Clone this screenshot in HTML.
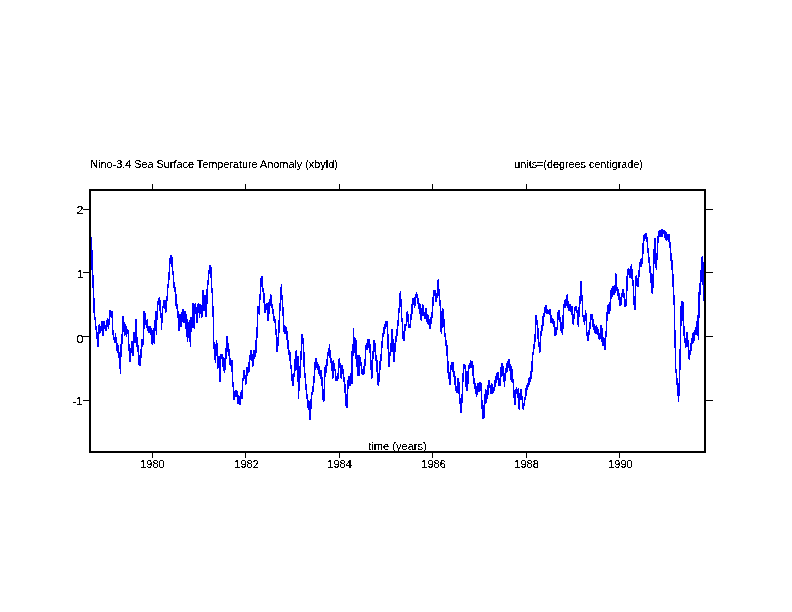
<!DOCTYPE html>
<html><head><meta charset="utf-8"><style>
html,body{margin:0;padding:0;background:#fff;}
body{width:792px;height:612px;overflow:hidden;}
svg{display:block;}
text{font-family:"Liberation Sans",sans-serif;fill:#000;stroke:#000;stroke-width:0.15px;}
</style></head><body>
<svg width="792" height="612" viewBox="0 0 792 612">
<defs><filter id="bin" x="0" y="0" width="792" height="612" filterUnits="userSpaceOnUse"><feComponentTransfer><feFuncA type="discrete" tableValues="0 1"/></feComponentTransfer></filter></defs>
<rect x="0" y="0" width="792" height="612" fill="#fff"/>
<path d="M91.09,237.17 L91.09,237.17 L91.22,240.33 L91.35,242.10 L91.47,242.96 L91.60,245.36 L91.73,246.76 L91.78,250.91 L91.86,252.35 L91.99,260.87 L92.11,264.37 L92.24,268.26 L92.29,271.51 L92.37,272.52 L92.50,274.42 L92.63,275.57 L92.75,274.70 L92.81,276.66 L92.88,278.00 L93.01,283.59 L93.14,284.41 L93.27,288.21 L93.32,292.12 L93.39,288.77 L93.52,291.45 L93.65,293.23 L93.78,298.79 L93.91,301.35 L94.01,309.29 L94.03,307.08 L94.16,310.85 L94.29,313.37 L94.42,311.19 L94.52,318.89 L94.55,314.50 L94.67,316.94 L94.80,319.02 L94.93,317.27 L95.06,318.62 L95.19,318.72 L95.31,319.42 L95.44,323.86 L95.57,323.09 L95.70,324.46 L95.73,325.76 L95.83,327.56 L95.95,326.87 L96.08,327.77 L96.21,329.11 L96.34,330.20 L96.47,328.63 L96.59,330.66 L96.72,334.81 L96.85,331.85 L96.93,334.34 L96.98,335.49 L97.11,336.99 L97.23,336.97 L97.36,342.84 L97.49,344.49 L97.62,342.15 L97.75,343.89 L97.87,346.53 L97.96,346.36 L98.00,345.92 L98.13,344.97 L98.26,342.02 L98.39,340.84 L98.51,340.80 L98.64,335.66 L98.77,333.47 L98.90,329.94 L99.03,328.12 L99.15,324.86 L99.16,325.76 L99.28,324.86 L99.41,325.26 L99.54,328.56 L99.67,331.32 L99.79,328.34 L99.92,327.89 L100.05,330.81 L100.18,327.57 L100.31,328.97 L100.36,332.62 L100.43,329.94 L100.56,332.45 L100.69,332.47 L100.82,330.09 L100.95,328.23 L101.07,327.00 L101.20,329.46 L101.33,326.68 L101.46,324.91 L101.59,324.81 L101.71,323.45 L101.74,323.18 L101.84,322.70 L101.97,321.26 L102.10,321.26 L102.23,321.26 L102.35,323.53 L102.42,322.16 L102.48,325.29 L102.61,326.68 L102.74,329.81 L102.87,330.58 L102.99,334.73 L103.11,334.34 L103.12,335.22 L103.25,335.07 L103.38,330.49 L103.51,330.53 L103.63,326.02 L103.76,322.14 L103.89,322.80 L104.02,321.53 L104.15,322.42 L104.27,326.64 L104.31,323.18 L104.40,323.75 L104.53,322.93 L104.66,324.30 L104.79,325.91 L104.91,325.73 L105.04,325.78 L105.17,327.82 L105.30,328.89 L105.43,326.63 L105.55,327.39 L105.68,328.28 L105.81,326.83 L105.94,328.80 L106.03,330.05 L106.07,327.56 L106.19,329.58 L106.32,328.90 L106.45,327.96 L106.58,325.71 L106.71,324.97 L106.83,321.40 L106.96,321.40 L107.09,321.40 L107.22,320.07 L107.23,322.32 L107.35,321.09 L107.47,318.75 L107.60,322.54 L107.73,321.80 L107.86,324.79 L107.99,325.49 L108.11,322.76 L108.24,326.89 L108.37,328.34 L108.50,328.21 L108.60,327.47 L108.63,327.78 L108.75,325.70 L108.88,322.20 L109.01,323.64 L109.14,320.60 L109.27,319.15 L109.39,316.18 L109.52,314.12 L109.65,310.97 L109.78,313.53 L109.91,311.63 L109.98,311.00 L109.98,311.16 L110.03,313.23 L110.16,313.16 L110.29,311.95 L110.42,312.21 L110.55,312.14 L110.67,313.49 L110.80,313.78 L110.93,314.35 L111.01,316.15 L111.06,312.84 L111.18,317.17 L111.19,313.35 L111.31,317.54 L111.44,315.14 L111.57,312.68 L111.70,313.73 L111.83,316.24 L111.95,311.77 L112.04,312.88 L112.08,312.65 L112.21,315.12 L112.34,315.62 L112.47,322.20 L112.59,325.90 L112.72,329.60 L112.85,331.45 L112.90,334.34 L112.98,334.58 L113.11,334.13 L113.23,334.88 L113.36,333.63 L113.49,332.90 L113.62,337.79 L113.75,337.27 L113.87,338.79 L114.00,339.28 L114.13,338.99 L114.26,338.91 L114.39,341.37 L114.51,341.21 L114.61,342.07 L114.64,341.26 L114.77,340.37 L114.90,341.69 L115.03,341.02 L115.15,339.57 L115.28,336.34 L115.41,333.75 L115.47,334.34 L115.54,335.10 L115.67,337.69 L115.79,337.36 L115.92,338.84 L116.05,340.53 L116.18,341.96 L116.31,343.32 L116.43,341.70 L116.56,344.99 L116.69,341.76 L116.82,344.36 L116.85,342.93 L116.95,345.45 L117.07,347.15 L117.20,350.47 L117.33,351.97 L117.46,347.90 L117.59,344.66 L117.71,348.03 L117.84,346.67 L117.97,348.16 L118.05,349.79 L118.10,351.12 L118.23,348.36 L118.35,346.14 L118.48,349.91 L118.61,352.11 L118.74,353.21 L118.87,354.81 L118.99,354.34 L119.12,353.11 L119.25,358.38 L119.25,355.44 L119.38,356.49 L119.51,356.50 L119.63,361.53 L119.76,364.14 L119.89,367.37 L120.02,367.24 L120.15,368.55 L120.27,369.38 L120.28,372.97 L120.40,365.33 L120.53,363.34 L120.66,358.62 L120.79,356.49 L120.91,353.61 L121.04,353.68 L121.17,345.31 L121.30,343.28 L121.43,338.54 L121.48,336.06 L121.55,337.07 L121.68,335.02 L121.81,336.18 L121.94,339.69 L122.07,340.56 L122.19,341.82 L122.32,342.23 L122.34,342.93 L122.45,341.70 L122.58,337.13 L122.71,328.53 L122.83,324.90 L122.96,318.67 L123.09,316.89 L123.20,317.87 L123.22,316.89 L123.35,316.89 L123.37,318.03 L123.47,318.79 L123.60,318.82 L123.73,320.12 L123.86,325.85 L123.99,328.15 L124.11,330.13 L124.24,331.92 L124.37,333.99 L124.40,334.34 L124.50,335.22 L124.63,334.58 L124.75,333.10 L124.88,329.26 L125.01,329.64 L125.14,327.06 L125.27,328.63 L125.39,324.42 L125.43,325.76 L125.52,325.28 L125.65,326.87 L125.78,325.62 L125.91,331.41 L126.03,334.79 L126.16,333.42 L126.29,335.50 L126.42,336.40 L126.55,331.40 L126.63,336.06 L126.67,334.00 L126.80,333.98 L126.93,334.00 L127.06,331.43 L127.19,331.25 L127.31,331.07 L127.44,333.44 L127.57,332.90 L127.70,331.64 L127.83,333.69 L127.84,330.05 L127.95,332.79 L128.08,333.40 L128.21,331.64 L128.34,338.08 L128.47,341.47 L128.59,344.12 L128.72,345.95 L128.85,346.65 L128.87,344.64 L128.98,348.20 L129.11,349.02 L129.23,350.41 L129.36,352.58 L129.49,357.60 L129.62,359.52 L129.75,360.25 L129.87,360.45 L129.90,360.95 L130.00,358.60 L130.13,361.18 L130.26,360.07 L130.39,358.05 L130.51,355.55 L130.64,352.05 L130.77,351.57 L130.90,352.69 L130.93,351.51 L131.03,350.53 L131.15,349.20 L131.28,348.04 L131.41,347.62 L131.54,343.57 L131.67,343.48 L131.79,341.80 L131.92,343.89 L132.05,341.45 L132.18,342.29 L132.30,341.21 L132.31,344.51 L132.43,345.18 L132.56,346.03 L132.69,349.15 L132.82,351.66 L132.95,352.20 L132.99,354.95 L133.07,353.08 L133.20,354.86 L133.33,350.45 L133.46,346.97 L133.59,342.26 L133.71,341.22 L133.84,336.53 L133.97,333.06 L134.02,336.06 L134.10,336.43 L134.23,334.70 L134.35,337.71 L134.48,340.47 L134.61,339.67 L134.74,339.86 L134.87,342.84 L134.99,340.40 L135.12,338.22 L135.22,337.77 L135.25,334.73 L135.38,333.05 L135.51,333.83 L135.63,332.17 L135.76,326.29 L135.89,321.85 L136.02,319.82 L136.08,319.59 L136.08,320.60 L136.15,321.65 L136.27,324.56 L136.40,328.38 L136.53,332.06 L136.66,334.31 L136.79,337.40 L136.91,340.98 L136.94,341.21 L137.04,342.06 L137.17,344.09 L137.30,348.46 L137.43,348.93 L137.55,348.55 L137.68,345.25 L137.79,348.08 L137.81,347.85 L137.94,345.40 L138.07,345.51 L138.19,350.62 L138.32,353.90 L138.45,354.66 L138.58,352.52 L138.71,354.42 L138.82,358.38 L138.83,355.42 L138.96,358.76 L139.09,364.34 L139.22,363.96 L139.35,362.07 L139.47,360.50 L139.60,362.13 L139.73,363.20 L139.85,365.25 L139.86,362.17 L139.99,362.34 L140.11,359.39 L140.24,361.64 L140.37,362.37 L140.50,362.35 L140.63,358.70 L140.75,357.98 L140.88,355.74 L141.01,353.37 L141.14,351.54 L141.23,351.51 L141.27,348.01 L141.39,345.09 L141.52,347.30 L141.65,346.14 L141.78,345.75 L141.91,346.58 L142.03,341.09 L142.16,339.18 L142.26,341.21 L142.29,339.88 L142.42,341.66 L142.55,341.37 L142.67,344.17 L142.80,344.39 L142.93,341.84 L143.06,341.05 L143.19,344.22 L143.29,344.64 L143.31,344.52 L143.44,335.49 L143.57,334.60 L143.70,330.62 L143.83,327.76 L143.95,320.64 L144.08,314.59 L144.15,311.86 L144.15,312.02 L144.21,311.38 L144.34,316.93 L144.47,315.78 L144.59,318.90 L144.72,316.60 L144.85,317.13 L144.98,314.07 L145.11,315.10 L145.18,317.87 L145.18,320.60 L145.23,321.48 L145.36,319.49 L145.49,323.23 L145.62,324.30 L145.75,322.48 L145.87,322.76 L146.00,323.30 L146.13,324.74 L146.26,324.93 L146.38,327.47 L146.39,324.66 L146.51,324.39 L146.64,322.48 L146.77,320.49 L146.90,321.48 L147.03,323.63 L147.15,319.93 L147.24,322.32 L147.28,320.89 L147.41,321.42 L147.54,321.71 L147.67,325.67 L147.79,325.86 L147.92,330.45 L148.05,329.08 L148.18,331.04 L148.31,331.42 L148.43,331.03 L148.44,332.62 L148.56,332.41 L148.69,331.52 L148.82,332.31 L148.95,331.29 L149.07,328.41 L149.20,328.46 L149.33,328.61 L149.46,330.31 L149.59,327.42 L149.71,327.22 L149.81,327.47 L149.84,326.62 L149.97,327.27 L150.10,326.62 L150.23,326.62 L150.35,326.90 L150.48,331.06 L150.61,328.56 L150.74,328.18 L150.87,328.90 L150.99,328.82 L151.12,332.04 L151.19,334.34 L151.25,332.09 L151.38,332.86 L151.51,336.37 L151.63,336.24 L151.76,338.98 L151.89,338.25 L152.02,337.77 L152.15,336.68 L152.27,343.85 L152.39,344.64 L152.40,343.89 L152.53,342.54 L152.66,340.37 L152.79,338.62 L152.91,336.54 L153.04,338.18 L153.17,332.46 L153.25,330.91 L153.30,328.70 L153.43,329.64 L153.55,330.27 L153.68,335.53 L153.81,339.55 L153.94,339.12 L154.07,338.72 L154.11,342.93 L154.19,338.50 L154.32,340.25 L154.45,332.00 L154.58,332.86 L154.71,329.30 L154.83,330.52 L154.96,326.13 L155.09,324.21 L155.22,319.74 L155.31,322.32 L155.35,317.54 L155.47,320.88 L155.60,321.29 L155.73,318.60 L155.86,315.58 L155.99,311.24 L156.11,311.16 L156.24,311.36 L156.34,312.72 L156.34,334.34 L156.37,331.92 L156.50,328.80 L156.63,323.46 L156.75,320.94 L156.88,318.08 L157.01,317.60 L157.14,317.05 L157.27,311.30 L157.37,305.85 L157.37,310.30 L157.39,310.10 L157.52,308.76 L157.65,306.39 L157.78,304.23 L157.91,303.82 L158.03,301.12 L158.16,302.33 L158.29,301.16 L158.40,300.70 L158.40,303.43 L158.42,303.52 L158.55,302.53 L158.67,300.63 L158.80,298.82 L158.93,298.94 L159.06,298.19 L159.19,299.05 L159.31,298.88 L159.43,298.98 L159.44,298.19 L159.57,299.40 L159.70,299.32 L159.83,301.49 L159.95,304.21 L160.08,303.04 L160.12,309.29 L160.12,310.30 L160.21,307.80 L160.34,310.43 L160.47,311.80 L160.59,312.51 L160.72,313.44 L160.85,313.20 L160.98,314.88 L161.11,315.74 L161.23,317.95 L161.36,317.09 L161.49,321.30 L161.49,329.19 L161.49,327.71 L161.62,326.28 L161.75,323.92 L161.87,321.00 L162.00,320.30 L162.13,314.53 L162.26,314.40 L162.39,312.96 L162.51,311.26 L162.64,309.51 L162.69,307.57 L162.69,308.59 L162.77,307.40 L162.90,306.31 L163.03,307.11 L163.15,306.84 L163.28,305.90 L163.41,301.55 L163.54,302.71 L163.67,304.34 L163.79,304.66 L163.89,300.70 L163.89,303.43 L163.92,305.96 L164.05,302.16 L164.18,305.00 L164.31,304.65 L164.43,300.35 L164.56,302.81 L164.69,301.00 L164.82,300.43 L164.92,305.85 L164.92,308.59 L164.95,304.26 L165.07,308.81 L165.20,308.36 L165.33,309.47 L165.46,311.95 L165.59,311.95 L165.71,311.95 L165.84,311.74 L165.97,308.95 L166.10,308.52 L166.13,311.00 L166.23,308.80 L166.35,307.82 L166.48,305.86 L166.61,305.65 L166.74,301.18 L166.87,299.13 L166.99,298.67 L167.12,297.29 L167.25,296.64 L167.33,292.12 L167.38,294.58 L167.51,292.05 L167.63,291.55 L167.76,288.20 L167.89,284.60 L168.02,286.56 L168.15,286.14 L168.27,286.30 L168.40,282.06 L168.53,281.86 L168.66,280.96 L168.70,283.53 L168.79,278.52 L168.91,273.04 L169.04,272.65 L169.17,273.94 L169.30,272.75 L169.43,269.13 L169.55,267.19 L169.68,266.63 L169.73,264.64 L169.81,259.05 L169.94,259.57 L170.07,260.75 L170.19,261.27 L170.32,263.15 L170.45,262.67 L170.58,260.27 L170.71,258.34 L170.76,255.20 L170.83,258.48 L170.96,256.35 L171.09,256.16 L171.22,258.02 L171.35,261.33 L171.47,259.16 L171.60,258.17 L171.73,258.15 L171.79,256.92 L171.86,261.50 L171.99,262.12 L172.11,266.33 L172.24,264.81 L172.37,266.30 L172.48,268.08 L172.50,267.90 L172.63,271.13 L172.75,274.19 L172.88,271.51 L173.01,271.69 L173.14,274.90 L173.27,275.43 L173.39,274.61 L173.51,280.10 L173.52,279.78 L173.65,281.85 L173.78,283.46 L173.91,282.85 L174.03,285.86 L174.16,285.49 L174.29,288.31 L174.42,286.35 L174.55,285.66 L174.67,287.72 L174.71,288.68 L174.80,287.38 L174.93,290.20 L175.06,291.34 L175.19,289.96 L175.31,291.42 L175.44,291.73 L175.57,294.75 L175.70,293.75 L175.83,293.84 L175.91,295.55 L175.95,297.66 L176.08,302.74 L176.21,305.83 L176.34,304.32 L176.47,304.23 L176.59,307.32 L176.72,306.38 L176.85,304.61 L176.94,305.85 L176.98,306.26 L177.11,308.42 L177.23,307.67 L177.36,306.10 L177.49,306.09 L177.62,310.80 L177.63,312.72 L177.75,311.13 L177.87,312.99 L178.00,315.26 L178.13,317.88 L178.14,317.17 L178.26,317.09 L178.39,318.26 L178.51,316.23 L178.64,316.11 L178.77,314.75 L178.90,318.29 L179.00,317.87 L179.00,330.05 L179.03,329.94 L179.15,326.44 L179.28,324.35 L179.41,322.59 L179.54,322.61 L179.67,317.26 L179.79,314.40 L179.86,317.17 L179.92,314.95 L180.05,320.20 L180.18,320.66 L180.31,318.74 L180.43,319.17 L180.56,322.06 L180.69,319.15 L180.72,316.15 L180.82,319.47 L180.95,324.41 L181.06,324.04 L181.07,326.74 L181.20,325.68 L181.33,322.17 L181.46,324.42 L181.59,324.82 L181.71,322.27 L181.84,320.46 L181.97,313.44 L182.10,314.04 L182.23,312.23 L182.35,311.89 L182.44,310.30 L182.44,317.87 L182.48,319.28 L182.61,316.72 L182.74,312.02 L182.87,312.86 L182.99,310.68 L183.12,309.74 L183.25,309.55 L183.30,310.14 L183.38,313.10 L183.47,320.60 L183.51,314.48 L183.63,318.50 L183.76,318.68 L183.89,320.20 L184.02,322.54 L184.15,319.72 L184.27,314.08 L184.40,312.20 L184.50,314.44 L184.50,317.17 L184.53,313.05 L184.66,313.59 L184.79,315.04 L184.91,311.71 L185.04,314.36 L185.17,312.21 L185.30,314.49 L185.43,315.01 L185.55,314.88 L185.68,315.24 L185.81,314.49 L185.87,316.15 L185.87,327.47 L185.94,325.56 L186.07,323.73 L186.19,326.20 L186.32,331.69 L186.45,335.51 L186.58,336.74 L186.71,336.50 L186.83,333.85 L186.90,332.62 L186.96,335.28 L187.09,331.21 L187.22,327.77 L187.35,324.29 L187.47,322.00 L187.59,319.59 L187.59,341.21 L187.60,340.30 L187.73,338.71 L187.86,335.07 L187.99,333.63 L188.11,337.39 L188.24,334.26 L188.37,331.37 L188.50,330.49 L188.62,327.47 L188.63,329.65 L188.75,325.21 L188.88,323.83 L189.01,324.73 L189.14,323.45 L189.27,321.87 L189.31,320.45 L189.39,327.80 L189.52,330.13 L189.65,334.34 L189.65,335.07 L189.78,335.99 L189.91,341.46 L190.03,338.76 L190.16,340.59 L190.29,342.87 L190.34,346.36 L190.42,342.61 L190.55,338.63 L190.67,335.69 L190.80,325.87 L190.93,322.50 L191.02,317.87 L191.06,319.18 L191.19,322.74 L191.31,329.23 L191.37,330.91 L191.44,328.73 L191.57,324.46 L191.70,324.98 L191.83,322.72 L191.95,322.75 L192.08,324.48 L192.21,325.08 L192.34,327.67 L192.47,325.33 L192.59,320.94 L192.72,319.54 L192.74,322.32 L192.85,312.85 L192.98,305.06 L193.08,304.13 L193.11,303.34 L193.23,303.34 L193.36,303.34 L193.49,305.69 L193.62,307.27 L193.75,309.58 L193.87,310.90 L194.00,313.16 L194.11,312.72 L194.11,327.47 L194.13,328.02 L194.26,327.65 L194.39,324.81 L194.51,322.05 L194.64,319.43 L194.77,313.13 L194.90,310.94 L195.03,308.45 L195.15,306.89 L195.28,303.76 L195.31,304.13 L195.31,310.30 L195.41,312.01 L195.54,311.87 L195.67,309.26 L195.79,306.80 L195.92,308.28 L196.05,309.66 L196.18,309.33 L196.31,310.85 L196.43,310.41 L196.52,312.72 L196.52,322.32 L196.56,321.62 L196.69,318.80 L196.82,317.91 L196.95,318.83 L197.07,322.00 L197.20,316.16 L197.33,313.17 L197.46,310.05 L197.59,310.85 L197.71,306.88 L197.84,305.26 L197.89,306.87 L197.97,305.28 L198.10,304.87 L198.23,304.87 L198.23,305.85 L198.35,304.87 L198.48,304.58 L198.61,304.24 L198.74,306.66 L198.87,310.26 L198.99,312.31 L199.12,310.93 L199.25,313.28 L199.26,317.17 L199.38,314.46 L199.51,313.53 L199.61,311.00 L199.63,311.09 L199.76,308.33 L199.89,309.37 L200.02,307.22 L200.15,304.40 L200.27,304.24 L200.40,306.46 L200.47,305.15 L200.53,306.21 L200.66,308.31 L200.79,306.37 L200.91,308.11 L200.98,305.85 L201.04,307.07 L201.17,308.79 L201.30,315.95 L201.43,317.65 L201.55,316.97 L201.67,317.17 L201.68,317.81 L201.81,316.47 L201.94,316.77 L202.01,312.72 L202.07,312.86 L202.19,307.29 L202.32,306.18 L202.45,305.41 L202.58,304.45 L202.70,303.43 L202.71,305.38 L202.83,300.24 L202.96,296.21 L203.04,290.40 L203.09,290.79 L203.22,295.08 L203.35,301.05 L203.47,302.92 L203.60,303.94 L203.73,305.30 L203.86,310.31 L203.99,308.83 L204.07,309.29 L204.11,309.22 L204.24,308.47 L204.37,307.99 L204.50,304.75 L204.63,303.69 L204.75,301.29 L204.88,300.05 L205.01,298.20 L205.10,297.27 L205.14,295.58 L205.27,298.83 L205.39,303.51 L205.52,303.58 L205.65,306.00 L205.78,310.21 L205.91,310.20 L206.03,313.64 L206.13,316.15 L206.16,312.81 L206.29,312.81 L206.42,313.85 L206.55,312.58 L206.67,306.01 L206.80,302.68 L206.93,298.12 L207.06,294.03 L207.19,293.15 L207.31,285.58 L207.33,285.25 L207.44,286.48 L207.57,284.66 L207.70,286.12 L207.83,284.19 L207.95,280.95 L208.08,280.53 L208.21,280.84 L208.34,279.25 L208.47,278.84 L208.54,276.66 L208.59,276.04 L208.72,270.51 L208.85,272.74 L208.98,273.17 L209.11,271.81 L209.22,269.79 L209.23,270.39 L209.36,271.56 L209.49,269.02 L209.62,266.74 L209.75,266.15 L209.87,268.30 L209.91,266.36 L210.00,265.53 L210.13,268.45 L210.26,267.06 L210.39,265.53 L210.51,269.41 L210.64,269.23 L210.77,266.89 L210.90,267.53 L210.94,269.79 L211.03,272.34 L211.15,277.37 L211.28,278.30 L211.41,281.68 L211.54,285.47 L211.63,285.25 L211.67,285.84 L211.79,288.33 L211.92,289.77 L212.05,290.34 L212.18,291.48 L212.31,294.01 L212.43,296.16 L212.49,297.27 L212.56,298.38 L212.69,302.17 L212.82,309.16 L212.95,313.19 L213.00,313.74 L213.07,315.98 L213.20,317.02 L213.33,316.27 L213.34,312.72 L213.46,328.34 L213.59,334.01 L213.69,339.49 L213.71,342.74 L213.84,341.96 L213.97,346.27 L214.10,348.97 L214.23,343.71 L214.35,342.95 L214.48,346.19 L214.61,348.81 L214.72,348.08 L214.74,350.95 L214.87,352.39 L214.99,355.33 L215.12,358.52 L215.25,359.99 L215.38,362.31 L215.40,361.81 L215.51,356.92 L215.63,356.76 L215.76,352.31 L215.89,352.60 L216.02,349.37 L216.15,345.10 L216.27,344.03 L216.40,340.84 L216.43,341.21 L216.53,340.84 L216.66,340.84 L216.79,343.46 L216.91,347.59 L217.04,351.89 L217.12,351.51 L217.17,353.15 L217.30,357.55 L217.43,359.15 L217.55,360.91 L217.68,364.33 L217.81,365.25 L217.81,368.29 L217.94,365.31 L218.07,363.30 L218.19,361.83 L218.32,361.00 L218.45,358.12 L218.58,359.82 L218.71,357.55 L218.83,357.49 L218.84,356.66 L218.96,358.40 L219.09,362.57 L219.22,366.34 L219.35,368.16 L219.47,375.34 L219.60,377.54 L219.73,381.48 L219.86,381.48 L219.87,380.70 L219.99,364.92 L220.00,361.15 L220.00,379.64 L220.11,376.96 L220.24,374.39 L220.37,370.76 L220.50,367.23 L220.63,363.11 L220.75,356.26 L220.86,357.32 L220.88,354.73 L221.01,354.29 L221.07,358.38 L221.14,354.95 L221.27,354.29 L221.37,356.00 L221.39,354.29 L221.52,354.29 L221.65,354.92 L221.78,354.29 L221.91,354.29 L222.03,354.29 L222.06,355.60 L222.16,354.29 L222.27,354.95 L222.29,354.29 L222.42,359.80 L222.55,362.73 L222.58,366.30 L222.67,365.47 L222.80,361.98 L222.93,362.89 L223.06,361.87 L223.19,361.45 L223.31,362.12 L223.43,360.76 L223.44,364.60 L223.57,363.04 L223.65,360.10 L223.70,361.02 L223.78,357.72 L223.83,358.17 L223.95,362.98 L224.08,365.53 L224.21,370.54 L224.29,371.06 L224.34,371.77 L224.47,371.90 L224.59,368.43 L224.72,368.01 L224.85,369.93 L224.98,368.44 L225.11,366.48 L225.15,368.02 L225.23,364.29 L225.36,358.80 L225.49,357.17 L225.49,359.04 L225.62,361.08 L225.75,360.19 L225.87,354.46 L226.00,350.81 L226.13,348.88 L226.26,349.85 L226.39,346.10 L226.51,343.43 L226.52,345.30 L226.52,345.70 L226.64,344.79 L226.77,344.70 L226.90,341.52 L227.03,337.49 L227.15,336.83 L227.21,337.12 L227.21,337.58 L227.28,336.83 L227.41,336.83 L227.54,338.52 L227.67,339.68 L227.79,343.16 L227.92,348.58 L228.05,350.99 L228.18,348.34 L228.24,348.74 L228.24,350.85 L228.31,353.05 L228.43,355.17 L228.56,352.86 L228.69,351.28 L228.82,352.25 L228.93,353.89 L228.95,350.01 L229.07,354.61 L229.20,349.65 L229.33,349.32 L229.44,354.29 L229.46,351.05 L229.59,354.02 L229.71,357.40 L229.84,360.45 L229.96,362.47 L229.97,361.92 L230.10,364.16 L230.23,358.85 L230.35,359.85 L230.48,358.92 L230.61,359.96 L230.65,361.15 L230.74,361.69 L230.87,361.18 L230.99,361.88 L231.12,365.64 L231.16,365.91 L231.25,366.12 L231.38,363.69 L231.51,367.37 L231.63,369.80 L231.76,363.41 L231.89,362.80 L232.02,366.54 L232.02,360.76 L232.15,369.93 L232.27,372.52 L232.40,374.87 L232.53,377.29 L232.66,381.06 L232.71,383.08 L232.79,382.49 L232.91,385.82 L233.04,386.04 L233.17,386.60 L233.30,385.92 L233.39,389.95 L233.43,388.42 L233.55,389.01 L233.68,391.43 L233.81,395.97 L233.94,397.98 L234.07,399.37 L234.08,398.53 L234.19,399.37 L234.32,398.08 L234.45,396.51 L234.58,394.86 L234.71,395.66 L234.83,392.12 L234.96,394.50 L235.09,392.97 L235.11,391.66 L235.22,391.34 L235.35,391.22 L235.47,391.00 L235.60,392.76 L235.73,392.28 L235.86,395.93 L235.99,394.49 L236.11,390.87 L236.24,391.99 L236.31,396.81 L236.37,390.79 L236.50,391.95 L236.63,395.20 L236.75,396.13 L236.88,392.51 L237.01,391.28 L237.14,395.42 L237.17,393.38 L237.27,395.93 L237.39,396.25 L237.52,398.96 L237.65,401.63 L237.78,403.07 L237.91,403.47 L238.03,400.25 L238.03,403.46 L238.16,403.04 L238.29,400.18 L238.42,397.42 L238.55,397.85 L238.67,395.96 L238.80,396.45 L238.93,396.91 L239.06,401.53 L239.19,397.77 L239.23,396.81 L239.31,398.01 L239.44,399.02 L239.57,401.40 L239.70,404.63 L239.83,404.07 L239.92,404.54 L239.95,402.83 L240.08,398.69 L240.21,397.07 L240.34,398.48 L240.47,397.78 L240.59,394.69 L240.72,393.56 L240.85,393.14 L240.95,393.38 L240.98,393.77 L241.11,393.13 L241.23,393.68 L241.36,391.14 L241.49,391.20 L241.62,397.03 L241.75,393.18 L241.87,394.82 L241.98,398.53 L242.00,396.56 L242.13,393.85 L242.26,390.32 L242.39,388.68 L242.51,386.78 L242.64,384.47 L242.67,384.79 L242.77,379.78 L242.90,380.21 L243.03,378.68 L243.15,377.98 L243.28,378.73 L243.35,379.64 L243.41,379.33 L243.54,379.36 L243.67,375.94 L243.79,376.10 L243.92,376.05 L244.04,371.06 L244.05,375.55 L244.18,377.60 L244.31,376.16 L244.43,375.65 L244.56,377.76 L244.69,375.04 L244.82,376.98 L244.90,377.93 L244.95,376.97 L245.07,377.50 L245.20,375.38 L245.33,376.12 L245.46,378.61 L245.59,382.23 L245.71,383.83 L245.76,383.08 L245.84,383.29 L245.97,381.20 L246.10,378.15 L246.23,378.27 L246.35,376.54 L246.48,376.69 L246.61,378.56 L246.61,374.49 L246.74,376.49 L246.87,372.19 L246.99,370.73 L247.12,368.52 L247.25,367.57 L247.38,371.85 L247.51,372.12 L247.63,368.64 L247.76,370.76 L247.82,371.06 L247.89,373.06 L248.02,371.01 L248.15,368.98 L248.27,368.27 L248.40,368.92 L248.53,369.84 L248.66,371.31 L248.79,372.09 L248.85,367.62 L248.91,371.40 L249.04,369.98 L249.17,366.87 L249.30,359.75 L249.43,357.41 L249.53,356.00 L249.55,356.52 L249.68,356.35 L249.81,359.14 L249.94,358.57 L250.05,359.04 L250.07,357.12 L250.19,359.49 L250.32,358.86 L250.45,357.10 L250.58,356.97 L250.71,356.68 L250.83,354.57 L250.91,350.85 L250.91,352.17 L250.96,350.54 L251.09,350.54 L251.22,350.89 L251.35,350.70 L251.47,353.20 L251.60,356.95 L251.73,356.10 L251.86,354.55 L251.94,357.32 L251.99,359.98 L252.11,358.10 L252.24,355.44 L252.37,356.81 L252.50,358.04 L252.62,357.72 L252.63,356.61 L252.75,361.72 L252.88,363.44 L252.97,365.91 L253.01,362.81 L253.14,361.14 L253.27,360.16 L253.39,355.62 L253.52,353.67 L253.65,350.50 L253.65,350.45 L253.78,356.23 L253.91,352.71 L254.00,350.85 L254.03,354.96 L254.16,353.84 L254.29,353.25 L254.42,354.82 L254.55,356.33 L254.67,358.21 L254.68,353.89 L254.80,356.86 L254.93,354.02 L255.06,352.31 L255.19,353.25 L255.20,352.57 L255.31,353.26 L255.44,354.49 L255.57,352.88 L255.70,352.82 L255.71,348.74 L255.83,352.60 L255.95,348.99 L256.06,343.98 L256.08,343.13 L256.21,340.95 L256.34,339.07 L256.40,343.59 L256.47,342.76 L256.59,338.43 L256.72,339.01 L256.85,337.08 L256.92,333.68 L256.98,336.94 L257.11,334.07 L257.23,328.95 L257.36,324.49 L257.43,321.66 L257.49,321.38 L257.62,318.81 L257.75,314.83 L257.87,312.42 L258.00,313.23 L258.12,307.93 L258.13,306.38 L258.26,308.18 L258.39,307.18 L258.51,309.03 L258.64,311.70 L258.77,311.76 L258.90,313.72 L259.03,310.42 L259.15,313.08 L259.15,313.94 L259.28,309.78 L259.41,308.71 L259.54,306.17 L259.67,298.08 L259.79,295.86 L259.84,299.34 L259.92,295.75 L260.05,297.58 L260.18,295.29 L260.31,293.00 L260.43,287.44 L260.56,288.93 L260.69,289.73 L260.82,285.80 L260.87,282.17 L260.95,283.09 L261.07,278.80 L261.20,281.01 L261.33,285.75 L261.46,284.41 L261.59,284.47 L261.71,282.85 L261.84,278.61 L261.97,280.48 L262.07,277.02 L262.10,276.88 L262.23,278.76 L262.35,281.69 L262.48,285.47 L262.61,287.63 L262.74,289.68 L262.87,289.44 L262.93,290.76 L262.99,288.64 L263.12,291.16 L263.25,291.65 L263.38,291.25 L263.51,291.61 L263.63,293.89 L263.76,293.05 L263.78,299.34 L263.89,294.06 L264.02,294.61 L264.15,299.08 L264.27,302.73 L264.40,308.63 L264.53,305.67 L264.64,307.93 L264.66,305.94 L264.79,309.01 L264.91,308.76 L265.04,308.56 L265.17,312.30 L265.30,311.23 L265.43,308.90 L265.55,307.35 L265.67,311.36 L265.68,309.80 L265.81,310.16 L265.94,306.67 L266.07,305.02 L266.19,306.72 L266.32,307.49 L266.45,305.17 L266.58,305.96 L266.70,304.49 L266.71,306.05 L266.83,303.53 L266.96,305.30 L267.09,308.51 L267.22,309.06 L267.35,306.85 L267.47,309.84 L267.60,314.29 L267.73,319.22 L267.73,316.51 L267.86,314.40 L267.99,320.70 L268.11,318.31 L268.24,320.70 L268.37,320.70 L268.42,319.95 L268.50,320.70 L268.63,319.28 L268.75,313.71 L268.88,313.10 L269.01,309.19 L269.14,302.38 L269.27,308.14 L269.39,306.51 L269.45,302.77 L269.52,307.68 L269.65,303.00 L269.78,304.66 L269.91,305.60 L270.03,305.81 L270.16,302.49 L270.29,297.84 L270.42,296.81 L270.55,295.04 L270.65,295.91 L270.67,295.04 L270.80,295.04 L270.93,295.04 L271.06,295.55 L271.19,297.22 L271.31,302.60 L271.44,304.88 L271.51,301.06 L271.57,304.03 L271.70,306.58 L271.83,304.59 L271.95,304.73 L272.08,307.75 L272.21,305.71 L272.34,306.86 L272.47,305.91 L272.59,308.67 L272.72,313.80 L272.85,312.56 L272.88,313.08 L272.98,313.67 L273.11,312.11 L273.23,310.82 L273.36,310.01 L273.49,315.06 L273.62,320.05 L273.75,319.43 L273.87,316.81 L274.00,318.22 L274.09,316.51 L274.13,317.33 L274.26,319.64 L274.39,320.38 L274.51,321.16 L274.64,322.65 L274.77,321.54 L274.90,321.59 L275.03,319.35 L275.15,320.93 L275.28,320.28 L275.29,325.10 L275.41,323.37 L275.54,324.21 L275.67,327.42 L275.79,330.66 L275.92,329.45 L276.05,330.53 L276.18,331.52 L276.31,336.09 L276.32,337.12 L276.43,341.85 L276.56,344.45 L276.69,344.42 L276.82,348.86 L276.95,346.38 L277.07,351.74 L277.18,350.85 L277.18,351.31 L277.20,351.26 L277.33,344.28 L277.46,350.43 L277.59,351.44 L277.71,346.30 L277.84,345.08 L277.97,343.05 L278.10,341.94 L278.23,337.57 L278.35,336.01 L278.38,338.83 L278.48,335.65 L278.61,333.64 L278.74,333.27 L278.87,329.67 L278.99,330.93 L279.12,324.43 L279.24,319.95 L279.25,321.45 L279.38,315.15 L279.51,311.98 L279.63,314.53 L279.76,310.80 L279.89,310.79 L280.02,308.88 L280.10,307.93 L280.15,304.75 L280.27,302.36 L280.40,299.57 L280.53,296.93 L280.66,296.80 L280.79,295.50 L280.91,291.23 L280.95,290.76 L281.04,287.72 L281.17,287.60 L281.30,286.16 L281.43,286.96 L281.47,284.75 L281.55,292.88 L281.68,294.75 L281.81,295.21 L281.94,296.29 L282.07,296.66 L282.16,299.34 L282.19,297.58 L282.32,298.18 L282.45,300.45 L282.58,302.42 L282.71,306.63 L282.83,307.56 L282.96,309.20 L283.09,308.82 L283.19,313.08 L283.22,315.14 L283.35,317.79 L283.47,322.84 L283.60,324.78 L283.73,328.23 L283.86,327.72 L283.87,325.10 L283.99,328.64 L284.11,331.15 L284.24,328.26 L284.37,330.27 L284.50,332.50 L284.63,331.75 L284.75,332.05 L284.88,333.43 L284.90,328.53 L285.01,330.32 L285.14,330.68 L285.27,328.36 L285.39,327.44 L285.52,327.07 L285.65,327.90 L285.78,329.06 L285.91,330.46 L286.03,327.54 L286.11,330.25 L286.16,332.96 L286.29,334.85 L286.42,335.30 L286.55,333.56 L286.67,333.27 L286.80,334.60 L286.93,335.33 L286.96,333.68 L287.06,332.06 L287.19,335.55 L287.31,342.52 L287.44,337.34 L287.57,340.47 L287.70,341.48 L287.82,340.55 L287.82,343.59 L287.83,344.54 L287.95,348.07 L288.08,345.38 L288.21,346.96 L288.34,351.01 L288.47,350.46 L288.59,350.12 L288.68,350.85 L288.72,351.25 L288.85,350.73 L288.98,354.71 L289.02,352.17 L289.11,352.54 L289.23,355.38 L289.36,353.10 L289.49,356.06 L289.54,356.00 L289.62,356.51 L289.75,351.93 L289.87,354.79 L290.00,354.62 L290.06,359.04 L290.13,356.13 L290.26,361.43 L290.39,359.47 L290.40,361.15 L290.51,358.88 L290.64,364.07 L290.77,364.84 L290.90,368.62 L291.03,368.77 L291.15,366.77 L291.26,367.62 L291.28,367.69 L291.41,371.58 L291.54,373.82 L291.67,373.75 L291.79,374.32 L291.92,374.84 L292.05,374.71 L292.12,376.21 L292.18,380.30 L292.31,380.21 L292.43,378.33 L292.56,379.06 L292.69,382.48 L292.82,384.87 L292.95,385.22 L292.97,384.79 L293.07,382.63 L293.20,381.53 L293.33,376.76 L293.46,374.05 L293.59,376.13 L293.71,374.13 L293.83,374.49 L293.84,374.14 L293.97,375.99 L294.10,375.63 L294.23,373.81 L294.35,376.75 L294.48,375.20 L294.61,371.86 L294.69,369.34 L294.74,371.23 L294.87,368.74 L294.99,363.74 L295.12,361.76 L295.25,359.18 L295.38,353.03 L295.51,352.13 L295.55,354.29 L295.55,355.60 L295.63,352.94 L295.76,352.46 L295.89,351.19 L296.02,351.19 L296.15,351.19 L296.27,351.57 L296.40,351.19 L296.41,352.17 L296.53,355.43 L296.66,357.07 L296.79,361.67 L296.91,369.15 L296.92,368.02 L297.04,366.70 L297.17,365.10 L297.27,365.91 L297.30,367.03 L297.43,364.73 L297.55,363.14 L297.68,362.87 L297.81,364.02 L297.94,357.64 L298.07,356.26 L298.13,359.44 L298.13,381.36 L298.19,379.43 L298.32,383.16 L298.45,387.59 L298.58,391.98 L298.64,398.53 L298.71,393.51 L298.83,386.83 L298.96,382.62 L299.09,378.40 L299.22,371.27 L299.33,368.02 L299.33,386.51 L299.35,385.44 L299.47,386.51 L299.60,383.43 L299.73,378.59 L299.86,375.84 L299.99,371.42 L300.01,372.77 L300.11,369.23 L300.24,367.46 L300.37,361.45 L300.50,357.59 L300.63,356.47 L300.70,352.57 L300.70,360.76 L300.75,360.10 L300.88,358.88 L301.01,355.03 L301.14,352.50 L301.27,350.96 L301.39,352.17 L301.39,354.71 L301.52,349.52 L301.65,344.85 L301.78,340.66 L301.91,337.63 L302.03,336.15 L302.07,334.54 L302.16,335.89 L302.29,340.61 L302.42,340.11 L302.55,342.64 L302.67,342.17 L302.80,342.91 L302.93,339.61 L302.93,340.55 L303.06,340.48 L303.19,341.42 L303.31,341.94 L303.44,338.73 L303.45,343.59 L303.57,346.44 L303.70,350.28 L303.83,354.14 L303.95,358.49 L304.08,362.82 L304.13,365.91 L304.21,366.79 L304.34,365.80 L304.47,366.49 L304.59,369.97 L304.72,372.38 L304.85,373.39 L304.98,374.22 L304.99,376.21 L305.11,374.59 L305.23,376.85 L305.36,381.20 L305.49,379.85 L305.62,384.71 L305.75,386.78 L305.85,384.79 L305.87,386.03 L306.00,389.02 L306.13,387.03 L306.26,386.03 L306.39,387.02 L306.51,390.10 L306.64,392.83 L306.71,396.81 L306.77,394.44 L306.90,396.81 L307.03,394.17 L307.15,398.25 L307.28,397.28 L307.41,398.63 L307.54,400.34 L307.57,403.68 L307.67,400.10 L307.79,399.79 L307.92,400.64 L308.05,403.45 L308.18,406.65 L308.31,408.82 L308.43,408.83 L308.43,407.24 L308.56,405.77 L308.69,404.43 L308.82,406.16 L308.95,402.01 L309.07,405.88 L309.20,404.54 L309.29,405.40 L309.33,403.83 L309.46,407.47 L309.59,411.86 L309.71,413.93 L309.84,417.42 L309.97,418.49 L310.10,419.40 L310.14,419.13 L310.23,419.40 L310.35,417.99 L310.48,417.51 L310.61,413.75 L310.74,410.42 L310.87,405.48 L310.99,402.86 L311.00,403.68 L311.12,403.46 L311.25,399.16 L311.38,400.00 L311.51,399.39 L311.63,398.37 L311.76,392.27 L311.86,395.10 L311.89,392.49 L312.02,394.27 L312.15,392.31 L312.27,392.64 L312.40,387.69 L312.53,390.62 L312.66,389.50 L312.72,391.66 L312.79,391.30 L312.91,386.21 L313.04,387.72 L313.17,386.25 L313.30,386.95 L313.43,383.39 L313.55,381.35 L313.58,383.08 L313.68,385.76 L313.81,382.01 L313.94,379.70 L314.07,378.87 L314.19,376.57 L314.32,379.30 L314.44,377.93 L314.45,381.49 L314.58,375.65 L314.71,368.95 L314.83,369.57 L314.96,368.66 L315.09,366.39 L315.22,364.54 L315.30,358.58 L315.30,369.34 L315.35,369.53 L315.47,367.34 L315.60,362.97 L315.73,359.67 L315.86,361.88 L315.99,359.28 L316.11,363.01 L316.15,359.04 L316.24,361.68 L316.37,360.07 L316.50,362.21 L316.63,365.73 L316.75,365.44 L316.88,362.09 L317.01,363.48 L317.01,362.87 L317.01,364.19 L317.14,368.07 L317.27,366.60 L317.39,365.47 L317.52,368.67 L317.65,369.15 L317.78,367.26 L317.87,369.34 L317.91,367.52 L318.03,366.17 L318.16,367.26 L318.29,367.33 L318.42,369.25 L318.55,369.32 L318.67,364.61 L318.73,365.91 L318.80,366.54 L318.93,369.65 L319.06,371.15 L319.19,373.71 L319.31,372.60 L319.44,371.64 L319.57,375.34 L319.59,374.49 L319.70,373.42 L319.83,370.22 L319.95,374.87 L320.08,374.37 L320.21,375.11 L320.34,373.57 L320.45,377.93 L320.47,372.84 L320.59,372.02 L320.72,372.91 L320.85,374.70 L320.98,370.24 L321.11,373.45 L321.23,371.31 L321.31,374.49 L321.36,372.04 L321.49,375.55 L321.62,377.40 L321.75,376.20 L321.87,382.86 L322.00,382.06 L322.13,384.41 L322.16,384.79 L322.26,386.15 L322.39,390.09 L322.51,389.23 L322.64,392.16 L322.77,390.92 L322.90,394.42 L323.02,393.38 L323.03,393.28 L323.15,394.33 L323.28,400.15 L323.41,401.17 L323.54,400.25 L323.54,401.23 L323.67,401.23 L323.79,400.19 L323.92,394.88 L324.05,393.99 L324.18,388.79 L324.31,389.48 L324.40,386.51 L324.43,388.88 L324.56,383.20 L324.69,378.40 L324.82,375.85 L324.95,372.72 L325.07,367.57 L325.08,369.34 L325.20,369.69 L325.33,366.06 L325.46,367.26 L325.59,368.21 L325.71,369.22 L325.84,371.15 L325.97,369.41 L326.10,372.17 L326.11,372.77 L326.23,370.94 L326.35,368.64 L326.48,365.31 L326.61,363.17 L326.74,364.46 L326.80,365.91 L326.87,361.46 L326.99,360.39 L327.12,360.76 L327.25,359.94 L327.31,356.00 L327.38,360.27 L327.51,356.83 L327.63,352.81 L327.76,354.22 L327.83,352.17 L327.89,353.60 L328.02,354.99 L328.15,353.49 L328.27,354.86 L328.40,354.89 L328.52,350.85 L328.53,354.52 L328.66,353.51 L328.79,352.48 L328.91,351.33 L329.03,348.74 L329.04,350.37 L329.17,350.70 L329.30,347.50 L329.43,349.69 L329.55,344.84 L329.55,347.11 L329.68,350.23 L329.81,350.75 L329.94,351.55 L330.07,357.39 L330.19,357.02 L330.23,355.60 L330.32,354.63 L330.45,354.26 L330.58,355.05 L330.71,360.67 L330.75,357.72 L330.83,360.51 L330.96,362.22 L331.09,359.68 L331.22,361.16 L331.26,360.76 L331.35,362.55 L331.47,365.53 L331.60,362.35 L331.73,363.07 L331.86,362.93 L331.95,361.15 L331.95,369.34 L331.99,368.70 L332.11,370.10 L332.24,370.88 L332.37,367.65 L332.50,371.99 L332.63,374.90 L332.75,375.12 L332.88,373.88 L332.98,377.93 L333.01,377.80 L333.14,372.95 L333.27,369.56 L333.32,364.59 L333.39,368.26 L333.52,364.01 L333.65,363.55 L333.67,360.76 L333.78,362.76 L333.91,363.27 L334.03,363.95 L334.16,364.96 L334.29,368.22 L334.42,368.63 L334.55,368.74 L334.67,368.99 L334.70,369.34 L334.80,370.53 L334.93,369.23 L335.06,369.53 L335.19,370.91 L335.31,371.00 L335.44,372.24 L335.57,372.29 L335.70,377.84 L335.83,380.12 L335.90,376.21 L335.95,379.93 L336.08,378.93 L336.21,380.50 L336.34,380.50 L336.47,380.50 L336.59,380.50 L336.72,380.50 L336.76,379.64 L336.85,380.50 L336.98,380.50 L337.11,380.50 L337.23,379.44 L337.36,379.71 L337.49,376.30 L337.62,379.69 L337.75,377.24 L337.87,376.12 L338.00,377.23 L338.13,378.36 L338.13,374.49 L338.26,373.00 L338.39,370.67 L338.51,366.53 L338.64,366.47 L338.77,365.31 L338.90,363.49 L339.03,361.08 L339.15,359.59 L339.28,359.08 L339.33,359.44 L339.33,360.76 L339.41,360.77 L339.54,365.07 L339.67,361.16 L339.79,362.85 L339.92,363.68 L340.05,366.40 L340.18,365.56 L340.19,367.62 L340.31,365.98 L340.43,364.29 L340.56,366.67 L340.69,366.83 L340.82,366.32 L340.95,367.00 L341.05,366.30 L341.05,377.93 L341.07,377.43 L341.20,372.59 L341.33,373.28 L341.46,372.36 L341.59,370.20 L341.71,370.47 L341.84,370.38 L341.91,365.91 L341.97,366.33 L342.10,365.82 L342.23,370.58 L342.35,373.59 L342.48,371.48 L342.61,369.75 L342.74,370.20 L342.77,372.77 L342.87,370.94 L342.99,369.46 L343.12,372.10 L343.25,371.35 L343.38,371.33 L343.51,375.87 L343.63,375.68 L343.76,377.09 L343.89,379.63 L343.97,379.64 L344.02,381.86 L344.15,381.28 L344.27,382.04 L344.40,381.09 L344.53,386.02 L344.66,387.11 L344.79,384.61 L344.91,385.66 L345.00,386.51 L345.04,388.25 L345.17,390.17 L345.30,394.61 L345.43,396.94 L345.55,395.10 L345.68,395.48 L345.81,393.91 L345.94,396.62 L346.07,398.63 L346.19,405.53 L346.20,400.25 L346.32,404.63 L346.45,400.10 L346.58,400.63 L346.71,402.93 L346.83,401.98 L346.96,402.60 L347.06,407.12 L347.09,403.43 L347.22,402.23 L347.35,399.27 L347.47,394.81 L347.60,394.26 L347.73,390.05 L347.86,386.37 L347.92,386.51 L347.99,382.12 L348.11,380.76 L348.24,382.30 L348.37,378.18 L348.50,378.28 L348.63,379.41 L348.75,377.39 L348.78,377.93 L348.88,378.34 L349.01,376.58 L349.14,380.57 L349.27,382.73 L349.39,382.49 L349.52,378.56 L349.65,377.81 L349.78,381.60 L349.91,385.54 L350.03,385.26 L350.15,383.08 L350.16,384.28 L350.29,383.31 L350.42,381.52 L350.55,380.47 L350.67,380.32 L350.80,375.95 L350.93,377.91 L351.06,379.48 L351.19,375.12 L351.31,371.72 L351.35,374.49 L351.44,374.57 L351.57,375.44 L351.70,373.22 L351.83,378.94 L351.95,381.76 L352.00,383.23 L352.08,369.16 L352.21,354.39 L352.21,350.85 L352.21,369.34 L352.34,367.96 L352.47,361.83 L352.59,358.38 L352.72,352.54 L352.85,348.11 L352.86,350.60 L352.98,352.57 L353.07,355.60 L353.11,352.07 L353.23,345.09 L353.36,342.45 L353.49,336.56 L353.59,328.53 L353.62,331.89 L353.72,328.23 L353.72,336.87 L353.75,340.10 L353.87,340.33 L354.00,342.61 L354.13,341.23 L354.26,344.35 L354.39,340.81 L354.51,340.28 L354.58,340.25 L354.64,337.75 L354.77,338.28 L354.79,340.55 L354.79,345.30 L354.90,346.94 L355.03,352.20 L355.09,350.60 L355.15,351.22 L355.28,351.72 L355.41,351.55 L355.43,352.27 L355.54,352.07 L355.65,355.60 L355.67,351.32 L355.79,347.86 L355.92,340.21 L355.99,342.27 L356.05,343.45 L356.18,352.36 L356.29,360.85 L356.29,360.91 L356.31,358.75 L356.43,358.11 L356.56,357.19 L356.69,363.35 L356.82,360.82 L356.95,365.30 L357.07,366.28 L357.15,364.29 L357.15,364.34 L357.20,364.47 L357.33,360.61 L357.46,362.18 L357.59,363.98 L357.71,359.21 L357.84,357.11 L357.97,358.04 L358.01,355.70 L358.01,369.49 L358.10,371.85 L358.23,375.58 L358.35,373.46 L358.48,374.53 L358.61,371.90 L358.74,375.58 L358.87,375.21 L358.87,374.59 L358.87,374.64 L358.99,367.83 L359.12,366.36 L359.25,364.33 L359.38,366.09 L359.51,361.51 L359.63,358.28 L359.73,355.70 L359.73,355.76 L359.76,357.48 L359.89,360.81 L360.02,359.81 L360.15,361.72 L360.27,362.13 L360.40,361.05 L360.53,361.45 L360.59,360.85 L360.59,364.34 L360.66,364.95 L360.79,362.86 L360.91,365.87 L361.04,362.47 L361.17,365.54 L361.30,366.95 L361.43,365.69 L361.44,364.29 L361.44,367.77 L361.55,367.52 L361.68,367.85 L361.81,369.64 L361.94,371.46 L362.07,371.84 L362.19,373.68 L362.30,371.15 L362.30,372.93 L362.32,373.58 L362.45,373.79 L362.58,370.31 L362.71,372.88 L362.83,373.21 L362.96,372.26 L363.09,374.33 L363.16,372.93 L363.16,373.73 L363.22,374.33 L363.35,368.32 L363.47,369.15 L363.60,366.30 L363.73,369.27 L363.86,373.54 L363.99,369.73 L364.02,367.72 L364.02,367.77 L364.11,368.23 L364.24,366.20 L364.37,365.78 L364.50,365.70 L364.63,366.53 L364.75,362.06 L364.88,360.85 L364.88,362.62 L364.88,365.82 L365.01,360.60 L365.14,359.07 L365.27,359.09 L365.39,357.40 L365.52,352.26 L365.65,348.83 L365.74,348.89 L365.74,350.55 L365.78,348.43 L365.91,348.02 L366.03,349.75 L366.16,345.51 L366.29,346.07 L366.42,346.29 L366.55,345.90 L366.60,343.68 L366.60,343.74 L366.67,345.60 L366.80,347.56 L366.93,346.57 L367.06,346.61 L367.19,345.94 L367.31,347.89 L367.44,341.57 L367.45,341.96 L367.45,347.17 L367.57,348.78 L367.70,346.57 L367.83,344.89 L367.95,342.20 L368.08,339.76 L368.21,339.76 L368.31,342.02 L368.31,347.12 L368.34,343.30 L368.47,344.71 L368.59,341.21 L368.72,344.51 L368.85,343.76 L368.98,341.86 L369.11,339.76 L369.17,340.25 L369.17,342.02 L369.23,340.13 L369.36,339.84 L369.49,341.25 L369.62,343.60 L369.75,345.05 L369.87,343.85 L370.00,345.84 L370.03,348.83 L370.03,350.60 L370.13,348.77 L370.26,352.52 L370.39,359.00 L370.51,361.23 L370.64,361.51 L370.77,359.87 L370.89,364.34 L370.89,367.72 L370.90,363.46 L371.03,363.39 L371.15,368.79 L371.28,369.66 L371.41,372.46 L371.54,373.39 L371.67,375.99 L371.75,378.08 L371.79,378.12 L371.92,373.04 L372.05,368.82 L372.18,363.91 L372.31,362.90 L372.43,357.06 L372.56,351.91 L372.60,354.04 L372.60,364.29 L372.69,357.81 L372.82,354.35 L372.95,355.01 L373.07,358.58 L373.20,352.57 L373.33,351.84 L373.46,348.98 L373.46,347.17 L373.46,352.27 L373.59,349.37 L373.71,347.49 L373.84,345.74 L373.97,343.05 L374.10,345.96 L374.23,340.58 L374.32,340.25 L374.32,342.02 L374.35,341.49 L374.48,342.65 L374.61,341.62 L374.74,342.57 L374.87,344.69 L374.99,344.62 L375.12,345.21 L375.18,343.74 L375.18,348.83 L375.25,351.74 L375.38,347.77 L375.51,352.82 L375.63,357.87 L375.76,358.71 L375.89,359.70 L376.02,355.86 L376.04,355.76 L376.04,360.85 L376.15,360.78 L376.27,359.20 L376.40,358.70 L376.53,361.51 L376.66,359.66 L376.79,359.90 L376.90,360.91 L376.90,371.15 L376.91,366.77 L377.04,368.49 L377.17,370.12 L377.30,369.61 L377.43,369.38 L377.55,374.57 L377.68,371.59 L377.76,372.93 L377.76,376.30 L377.81,374.04 L377.94,374.84 L378.07,379.85 L378.19,385.17 L378.32,385.34 L378.45,383.86 L378.58,384.07 L378.61,384.95 L378.71,384.91 L378.83,379.80 L378.96,380.43 L379.09,379.70 L379.22,375.55 L379.35,373.18 L379.47,367.72 L379.47,371.21 L379.47,374.45 L379.60,374.71 L379.73,369.03 L379.86,369.48 L379.99,366.01 L380.11,362.53 L380.24,361.57 L380.33,360.85 L380.33,364.34 L380.37,363.23 L380.50,359.96 L380.63,356.17 L380.75,354.58 L380.88,357.81 L381.01,360.14 L381.14,358.30 L381.19,353.98 L381.19,355.76 L381.27,359.27 L381.39,354.60 L381.52,351.95 L381.65,350.37 L381.78,345.97 L381.91,342.79 L382.03,342.34 L382.05,343.68 L382.05,347.17 L382.16,343.77 L382.29,340.22 L382.42,340.16 L382.55,338.00 L382.67,338.45 L382.80,335.85 L382.91,333.38 L382.91,336.87 L382.93,336.55 L383.06,335.83 L383.19,334.38 L383.31,332.10 L383.44,330.86 L383.57,332.00 L383.70,332.07 L383.77,329.95 L383.83,333.29 L383.95,328.13 L384.08,327.49 L384.21,326.91 L384.34,327.60 L384.47,326.61 L384.59,325.75 L384.72,327.68 L384.85,327.48 L384.97,326.51 L384.98,324.51 L385.11,327.43 L385.23,328.29 L385.36,325.45 L385.49,326.35 L385.62,323.54 L385.75,325.36 L385.87,323.55 L386.00,322.22 L386.00,321.24 L386.13,321.47 L386.26,321.24 L386.39,323.12 L386.51,324.53 L386.64,325.35 L386.77,324.91 L386.86,326.51 L386.90,321.24 L387.03,322.91 L387.15,321.73 L387.28,325.62 L387.41,330.03 L387.54,331.27 L387.67,330.99 L387.71,331.66 L387.79,335.08 L387.92,341.47 L388.05,347.04 L388.06,348.89 L388.18,345.01 L388.31,342.04 L388.40,343.68 L388.43,345.32 L388.56,349.34 L388.69,355.40 L388.82,358.34 L388.92,360.85 L388.92,364.34 L388.95,365.03 L389.07,364.87 L389.20,366.20 L389.33,366.68 L389.43,366.00 L389.46,366.68 L389.59,360.34 L389.71,354.43 L389.78,354.04 L389.84,355.98 L389.97,353.84 L390.10,352.27 L390.12,352.27 L390.23,354.24 L390.35,354.20 L390.48,352.64 L390.61,349.41 L390.74,352.55 L390.87,350.09 L390.99,348.49 L391.12,345.67 L391.15,343.68 L391.25,342.95 L391.38,342.29 L391.49,347.17 L391.51,345.02 L391.63,339.95 L391.76,333.08 L391.84,329.95 L391.89,329.36 L392.02,329.36 L392.15,329.36 L392.27,329.36 L392.40,333.05 L392.52,335.10 L392.53,336.85 L392.66,344.11 L392.79,345.45 L392.91,344.21 L393.04,343.81 L393.17,339.30 L393.21,347.12 L393.21,352.32 L393.30,347.74 L393.43,350.84 L393.55,355.51 L393.68,358.10 L393.81,360.12 L393.94,361.09 L394.07,361.84 L394.07,360.85 L394.07,360.91 L394.19,361.84 L394.32,357.22 L394.45,354.09 L394.58,349.52 L394.71,351.97 L394.83,351.98 L394.93,347.12 L394.93,347.17 L394.96,350.27 L395.09,344.92 L395.22,343.84 L395.35,341.77 L395.47,340.54 L395.60,338.64 L395.73,338.31 L395.78,336.87 L395.78,340.25 L395.86,339.64 L395.99,340.96 L396.11,340.32 L396.24,338.67 L396.37,337.83 L396.50,336.47 L396.63,337.95 L396.64,336.81 L396.75,336.02 L396.88,335.55 L397.01,333.48 L397.14,329.64 L397.27,331.71 L397.39,328.62 L397.50,329.95 L397.52,329.83 L397.65,329.62 L397.78,324.94 L397.91,323.14 L398.03,322.52 L398.16,321.12 L398.29,319.15 L398.36,323.08 L398.42,320.50 L398.55,317.52 L398.67,315.79 L398.80,311.92 L398.88,311.06 L398.93,310.75 L399.06,308.25 L399.19,307.81 L399.31,308.38 L399.44,307.26 L399.56,305.91 L399.57,305.13 L399.70,301.17 L399.83,300.48 L399.95,299.60 L400.08,297.05 L400.21,293.67 L400.34,293.45 L400.42,292.17 L400.47,298.03 L400.59,298.01 L400.72,300.30 L400.85,302.78 L400.98,299.40 L401.11,303.78 L401.11,305.91 L401.23,305.77 L401.36,312.17 L401.49,313.76 L401.62,314.69 L401.75,317.39 L401.79,319.64 L401.87,320.00 L402.00,320.34 L402.13,322.07 L402.26,321.01 L402.39,323.15 L402.48,326.51 L402.51,326.87 L402.64,331.72 L402.77,332.50 L402.90,332.47 L403.03,334.67 L403.15,336.04 L403.17,331.66 L403.28,338.71 L403.41,339.62 L403.54,338.23 L403.67,338.60 L403.79,339.13 L403.92,340.16 L404.03,339.39 L404.05,340.88 L404.18,339.08 L404.31,335.50 L404.37,340.30 L404.43,334.88 L404.56,329.90 L404.69,330.07 L404.82,329.02 L404.89,329.95 L404.95,324.78 L405.07,327.08 L405.20,328.43 L405.33,327.31 L405.46,329.40 L405.57,324.79 L405.59,330.72 L405.71,325.27 L405.84,326.23 L405.97,325.35 L406.10,324.53 L406.23,324.81 L406.35,321.42 L406.48,319.38 L406.60,319.64 L406.61,317.39 L406.74,315.46 L406.87,315.11 L406.99,312.16 L407.12,312.16 L407.25,312.16 L407.29,312.77 L407.38,312.60 L407.51,315.07 L407.63,312.53 L407.76,313.72 L407.89,315.41 L407.98,319.64 L408.02,317.89 L408.15,318.15 L408.27,321.59 L408.40,321.93 L408.53,322.55 L408.66,323.16 L408.66,323.08 L408.79,325.05 L408.91,324.03 L409.04,326.81 L409.17,327.31 L409.30,327.28 L409.43,327.21 L409.52,326.51 L409.55,327.31 L409.68,327.31 L409.81,327.31 L409.94,326.99 L410.07,326.78 L410.19,324.83 L410.32,325.62 L410.38,321.36 L410.45,323.23 L410.58,317.40 L410.71,320.41 L410.83,319.45 L410.96,316.01 L411.09,315.59 L411.22,313.65 L411.24,316.21 L411.35,317.94 L411.47,316.87 L411.60,311.69 L411.73,312.40 L411.86,310.52 L411.99,313.62 L412.10,309.34 L412.11,309.13 L412.24,303.64 L412.37,304.56 L412.50,303.88 L412.63,302.92 L412.75,298.48 L412.88,300.55 L412.96,302.47 L413.01,304.10 L413.14,299.03 L413.27,301.94 L413.39,300.01 L413.52,304.48 L413.65,303.13 L413.78,300.86 L413.81,299.04 L413.91,303.00 L414.03,303.79 L414.16,302.44 L414.29,304.64 L414.42,303.93 L414.55,301.36 L414.67,305.91 L414.67,306.89 L414.80,305.32 L414.93,302.90 L415.06,302.93 L415.19,298.74 L415.31,296.23 L415.44,296.02 L415.53,299.04 L415.57,295.49 L415.70,296.04 L415.83,298.12 L415.95,295.81 L416.08,296.01 L416.21,295.98 L416.34,292.38 L416.39,293.03 L416.47,293.18 L416.59,292.38 L416.72,295.61 L416.85,296.79 L416.98,296.88 L417.11,294.48 L417.23,296.21 L417.25,297.32 L417.36,295.62 L417.49,298.41 L417.62,298.63 L417.75,297.59 L417.87,300.64 L418.00,302.27 L418.11,300.76 L418.13,300.87 L418.26,303.98 L418.39,303.23 L418.51,303.06 L418.64,304.13 L418.77,303.33 L418.90,303.78 L418.96,305.91 L419.03,304.42 L419.15,307.77 L419.28,309.62 L419.41,307.11 L419.54,309.23 L419.67,307.10 L419.79,306.57 L419.82,304.19 L419.92,308.34 L420.05,308.94 L420.18,314.06 L420.31,313.30 L420.43,310.47 L420.56,314.30 L420.68,312.77 L420.69,313.70 L420.82,314.47 L420.95,310.25 L421.07,316.38 L421.20,319.64 L421.20,320.23 L421.33,320.03 L421.46,319.65 L421.59,320.24 L421.71,316.50 L421.84,315.61 L421.97,311.10 L422.06,309.34 L422.10,308.86 L422.23,310.44 L422.35,309.80 L422.48,305.71 L422.61,306.39 L422.74,305.45 L422.74,305.91 L422.87,304.92 L422.99,307.31 L423.12,307.46 L423.25,305.57 L423.38,305.69 L423.51,311.87 L423.63,309.34 L423.76,311.65 L423.77,312.77 L423.89,313.70 L424.02,315.11 L424.15,312.37 L424.27,312.68 L424.40,313.94 L424.53,316.16 L424.66,314.75 L424.79,313.01 L424.91,316.45 L424.97,316.21 L425.04,318.12 L425.17,316.85 L425.30,313.72 L425.43,313.47 L425.55,312.31 L425.68,312.67 L425.81,308.52 L425.83,309.34 L425.94,309.68 L426.07,310.59 L426.19,309.64 L426.32,312.14 L426.45,313.68 L426.58,314.12 L426.69,316.21 L426.71,316.41 L426.83,314.57 L426.96,316.60 L427.09,319.20 L427.22,320.87 L427.35,323.66 L427.47,321.52 L427.55,323.08 L427.60,319.07 L427.73,319.96 L427.86,320.51 L427.99,323.77 L428.11,322.30 L428.24,318.03 L428.37,318.42 L428.41,316.21 L428.50,316.02 L428.63,315.33 L428.75,320.83 L428.88,320.70 L429.01,321.60 L429.14,322.05 L429.27,325.02 L429.27,319.64 L429.39,324.71 L429.52,326.91 L429.65,324.25 L429.78,322.44 L429.91,327.50 L430.03,328.78 L430.13,328.23 L430.16,328.78 L430.29,328.69 L430.42,326.51 L430.55,322.88 L430.67,324.54 L430.80,323.16 L430.93,321.41 L430.98,317.93 L431.06,319.94 L431.19,320.28 L431.31,319.09 L431.44,318.56 L431.57,314.10 L431.70,314.47 L431.83,317.75 L431.84,312.77 L431.95,313.99 L432.08,312.21 L432.21,312.87 L432.34,313.10 L432.47,312.26 L432.59,306.96 L432.70,307.62 L432.72,307.46 L432.85,302.70 L432.98,299.64 L433.11,299.63 L433.23,297.01 L433.36,296.73 L433.49,300.31 L433.56,292.17 L433.62,297.81 L433.75,296.85 L433.87,292.98 L434.00,291.12 L434.13,290.34 L434.26,290.34 L434.39,290.34 L434.42,291.31 L434.51,290.34 L434.64,290.34 L434.77,290.34 L434.90,290.34 L435.03,290.34 L435.15,292.48 L435.28,295.60 L435.28,294.25 L435.41,297.63 L435.54,300.00 L435.67,298.96 L435.79,300.66 L435.92,297.77 L436.05,301.58 L436.14,300.76 L436.18,301.58 L436.31,301.58 L436.43,298.60 L436.56,299.23 L436.69,294.90 L436.82,294.28 L436.95,296.77 L436.99,297.32 L437.07,295.89 L437.20,293.24 L437.33,293.81 L437.46,289.46 L437.59,288.78 L437.71,286.09 L437.84,283.06 L437.85,285.30 L437.97,283.62 L438.10,280.55 L438.23,283.99 L438.35,280.57 L438.37,280.15 L438.48,287.00 L438.61,286.13 L438.74,290.21 L438.87,290.24 L438.88,292.17 L438.99,289.67 L439.12,292.72 L439.25,296.10 L439.38,294.73 L439.51,299.34 L439.57,299.04 L439.63,298.52 L439.76,300.23 L439.89,302.15 L440.02,304.15 L440.15,300.97 L440.27,306.31 L440.40,307.81 L440.43,305.91 L440.53,309.06 L440.66,310.26 L440.79,311.01 L440.91,313.49 L440.94,319.64 L441.04,321.48 L441.17,326.78 L441.29,333.38 L441.30,329.78 L441.43,328.57 L441.55,331.41 L441.68,328.71 L441.81,325.97 L441.94,327.58 L442.07,326.16 L442.14,323.08 L442.19,323.12 L442.32,317.94 L442.45,311.58 L442.58,308.93 L442.66,309.34 L442.71,308.93 L442.83,308.95 L442.96,312.29 L443.09,315.33 L443.22,317.13 L443.35,317.93 L443.35,318.85 L443.47,318.07 L443.60,315.94 L443.73,318.57 L443.86,319.93 L443.99,321.98 L444.03,326.51 L444.11,324.20 L444.24,323.84 L444.37,324.28 L444.50,326.94 L444.63,329.36 L444.72,331.66 L444.72,335.15 L444.75,333.08 L444.88,335.75 L445.01,336.22 L445.14,335.20 L445.27,337.01 L445.39,342.09 L445.52,340.33 L445.58,340.25 L445.58,340.30 L445.65,342.88 L445.78,344.59 L445.91,345.86 L446.03,341.97 L446.16,345.32 L446.29,343.52 L446.42,341.70 L446.44,340.25 L446.44,347.17 L446.55,347.20 L446.67,347.80 L446.80,346.89 L446.93,345.70 L446.95,345.40 L447.06,351.84 L447.19,353.81 L447.30,357.47 L447.31,355.49 L447.44,357.82 L447.47,357.42 L447.57,360.35 L447.70,363.48 L447.83,361.67 L447.95,365.53 L448.08,367.28 L448.15,366.00 L448.15,367.77 L448.21,373.28 L448.34,370.39 L448.47,372.20 L448.59,372.91 L448.72,371.33 L448.85,372.74 L448.98,377.89 L449.01,378.08 L449.11,377.83 L449.23,377.48 L449.36,380.75 L449.49,383.27 L449.62,384.20 L449.75,382.92 L449.87,383.23 L449.87,383.34 L450.00,384.07 L450.13,380.61 L450.26,377.84 L450.39,378.82 L450.51,380.37 L450.64,375.36 L450.73,374.64 L450.77,368.86 L450.90,366.54 L451.03,365.41 L451.15,365.87 L451.28,367.04 L451.41,365.60 L451.54,363.01 L451.59,364.34 L451.59,367.72 L451.67,366.40 L451.79,364.05 L451.92,364.16 L452.05,362.73 L452.18,368.21 L452.31,367.46 L452.43,363.40 L452.45,362.57 L452.45,362.62 L452.56,362.48 L452.69,363.75 L452.82,362.72 L452.95,364.54 L453.07,366.23 L453.20,371.10 L453.31,372.93 L453.33,371.82 L453.46,371.23 L453.59,369.99 L453.71,369.77 L453.84,372.07 L453.97,373.35 L454.10,377.03 L454.16,376.36 L454.23,376.03 L454.35,379.20 L454.48,379.80 L454.61,379.95 L454.74,376.34 L454.87,375.91 L454.99,380.03 L455.02,381.51 L455.12,384.32 L455.25,384.95 L455.38,386.86 L455.51,386.07 L455.63,386.07 L455.76,385.91 L455.88,388.38 L455.89,389.45 L456.02,390.24 L456.15,389.76 L456.27,389.49 L456.40,391.30 L456.53,392.12 L456.66,390.51 L456.74,391.81 L456.79,392.49 L456.91,392.49 L457.04,390.74 L457.17,392.13 L457.30,391.65 L457.43,388.73 L457.55,387.81 L457.60,384.95 L457.68,383.81 L457.81,382.01 L457.94,378.83 L458.07,381.26 L458.19,378.83 L458.32,379.37 L458.45,378.83 L458.46,379.79 L458.58,378.83 L458.71,380.87 L458.83,384.16 L458.96,387.55 L459.09,392.62 L459.22,393.55 L459.32,391.81 L459.35,395.80 L459.47,394.70 L459.60,397.27 L459.73,398.31 L459.86,398.32 L459.99,399.67 L460.11,401.16 L460.17,402.12 L460.24,403.39 L460.37,406.01 L460.50,406.54 L460.63,407.16 L460.75,411.27 L460.86,412.42 L460.88,408.99 L461.01,407.30 L461.14,409.95 L461.27,402.33 L461.39,401.11 L461.52,402.45 L461.65,397.90 L461.78,402.98 L461.89,398.68 L461.91,394.87 L462.03,396.58 L462.16,396.82 L462.29,394.66 L462.42,390.07 L462.55,387.44 L462.67,382.34 L462.75,381.51 L462.80,381.87 L462.93,377.09 L463.06,375.09 L463.19,375.60 L463.31,370.87 L463.44,368.71 L463.57,367.65 L463.61,367.72 L463.61,367.77 L463.70,365.19 L463.83,368.25 L463.95,368.74 L464.08,365.32 L464.21,366.21 L464.34,365.29 L464.47,367.77 L464.47,365.19 L464.59,365.98 L464.72,365.19 L464.85,367.51 L464.98,365.62 L465.11,367.76 L465.23,366.89 L465.32,366.00 L465.32,372.93 L465.36,375.43 L465.49,374.78 L465.62,374.97 L465.75,374.30 L465.87,377.88 L466.00,381.25 L466.13,386.15 L466.18,381.51 L466.26,386.28 L466.39,382.96 L466.51,379.44 L466.64,377.90 L466.77,375.53 L466.90,376.47 L467.03,375.38 L467.04,371.15 L467.04,390.10 L467.15,389.49 L467.28,386.28 L467.41,387.85 L467.54,386.06 L467.67,383.29 L467.79,383.85 L467.90,379.79 L467.92,380.38 L468.05,377.66 L468.18,374.94 L468.31,369.59 L468.43,371.32 L468.56,367.48 L468.69,365.74 L468.76,367.72 L468.76,369.49 L468.82,366.12 L468.95,368.62 L469.07,368.43 L469.20,368.37 L469.33,364.85 L469.46,365.82 L469.59,363.52 L469.62,367.77 L469.71,365.01 L469.84,365.51 L469.97,364.62 L470.10,367.80 L470.23,366.26 L470.35,365.06 L470.48,360.85 L470.48,362.62 L470.48,364.84 L470.61,363.44 L470.74,364.86 L470.87,365.94 L470.99,361.72 L471.12,363.86 L471.25,364.00 L471.33,361.77 L471.33,362.57 L471.38,365.96 L471.51,366.12 L471.63,363.00 L471.76,361.47 L471.89,366.76 L472.02,366.99 L472.15,363.99 L472.19,366.00 L472.19,367.77 L472.27,368.03 L472.40,368.49 L472.53,366.21 L472.66,364.36 L472.79,365.04 L472.91,369.60 L473.04,372.11 L473.05,374.64 L473.17,373.86 L473.30,376.50 L473.43,379.23 L473.55,375.97 L473.68,378.13 L473.81,378.88 L473.91,383.23 L473.94,378.87 L474.07,380.07 L474.19,381.85 L474.32,382.84 L474.45,381.26 L474.58,382.46 L474.71,388.38 L474.77,386.66 L474.83,385.86 L474.96,383.12 L475.09,385.50 L475.22,387.67 L475.35,388.81 L475.47,386.43 L475.60,389.34 L475.63,388.38 L475.73,388.24 L475.86,387.38 L475.99,388.33 L476.11,390.31 L476.24,393.55 L476.37,395.72 L476.49,395.25 L476.50,395.93 L476.63,396.14 L476.75,394.66 L476.88,394.80 L477.01,389.88 L477.14,386.17 L477.27,388.24 L477.34,388.38 L477.39,385.15 L477.52,385.66 L477.65,386.35 L477.78,385.93 L477.91,385.70 L478.03,389.21 L478.16,383.62 L478.29,386.71 L478.42,391.46 L478.55,389.72 L478.67,388.54 L478.80,389.27 L478.93,391.86 L479.06,387.33 L479.06,386.66 L479.19,386.98 L479.31,386.13 L479.44,387.00 L479.57,386.62 L479.70,387.29 L479.83,385.43 L479.95,385.15 L480.08,383.45 L480.21,382.34 L480.34,382.60 L480.47,382.67 L480.59,382.34 L480.72,384.65 L480.78,383.23 L480.85,385.05 L480.98,384.38 L481.11,389.87 L481.23,390.39 L481.36,394.13 L481.49,396.25 L481.62,398.98 L481.64,398.68 L481.75,400.72 L481.87,400.82 L482.00,402.72 L482.13,408.47 L482.26,403.98 L482.39,406.52 L482.50,408.98 L482.51,409.35 L482.64,408.46 L482.77,407.80 L482.90,414.97 L483.03,414.73 L483.15,418.25 L483.28,418.25 L483.35,417.57 L483.41,418.25 L483.54,418.25 L483.67,418.25 L483.79,418.25 L483.92,417.67 L484.00,413.98 L484.05,414.23 L484.18,408.58 L484.21,405.55 L484.31,409.00 L484.43,408.77 L484.56,404.85 L484.69,403.09 L484.82,403.81 L484.86,403.68 L484.95,400.37 L485.07,398.68 L485.07,397.15 L485.20,394.79 L485.33,394.34 L485.46,395.02 L485.59,396.16 L485.71,394.44 L485.72,393.38 L485.84,396.21 L485.93,390.10 L485.97,393.46 L486.10,400.77 L486.23,401.58 L486.35,401.85 L486.48,400.83 L486.58,400.25 L486.61,395.01 L486.74,393.44 L486.79,395.25 L486.87,393.81 L486.99,398.19 L487.12,394.21 L487.25,398.37 L487.38,396.55 L487.43,395.10 L487.51,398.63 L487.63,394.79 L487.65,398.68 L487.76,394.55 L487.89,392.23 L488.02,391.93 L488.15,389.60 L488.27,384.78 L488.29,386.51 L488.40,386.50 L488.53,386.86 L488.66,386.58 L488.79,386.92 L488.91,387.01 L489.04,384.51 L489.15,381.36 L489.17,380.47 L489.30,380.47 L489.43,383.61 L489.55,385.56 L489.68,385.82 L489.81,385.21 L489.94,386.08 L490.01,386.51 L490.07,387.01 L490.19,387.34 L490.32,387.23 L490.45,393.29 L490.58,393.47 L490.71,392.32 L490.83,390.64 L490.87,393.38 L490.96,389.51 L491.09,390.84 L491.22,391.21 L491.35,388.96 L491.47,387.64 L491.60,385.62 L491.73,384.79 L491.73,383.81 L491.86,386.71 L491.99,387.77 L492.11,392.92 L492.24,389.86 L492.37,389.56 L492.50,391.73 L492.59,389.95 L492.63,390.92 L492.75,388.05 L492.88,387.30 L493.01,389.05 L493.14,390.69 L493.27,390.90 L493.39,392.56 L493.44,391.66 L493.52,392.56 L493.65,392.56 L493.78,391.19 L493.91,389.30 L494.03,389.47 L494.16,390.00 L494.29,388.30 L494.30,386.51 L494.42,387.97 L494.55,386.04 L494.67,382.50 L494.80,381.00 L494.93,383.42 L495.06,384.04 L495.16,383.08 L495.19,386.43 L495.31,384.37 L495.44,384.45 L495.57,385.10 L495.70,384.53 L495.83,380.67 L495.95,378.90 L496.02,377.93 L496.08,378.41 L496.21,375.94 L496.34,377.27 L496.47,379.07 L496.59,377.04 L496.72,380.62 L496.85,378.14 L496.88,376.21 L496.98,376.53 L497.11,375.25 L497.23,373.34 L497.36,374.24 L497.49,373.78 L497.62,376.58 L497.74,372.77 L497.75,376.05 L497.87,376.61 L498.00,375.73 L498.13,373.13 L498.26,374.52 L498.39,374.14 L498.51,377.83 L498.60,377.93 L498.64,378.47 L498.77,382.76 L498.90,383.88 L499.03,385.17 L499.15,385.14 L499.28,385.45 L499.41,385.45 L499.45,384.79 L499.54,385.45 L499.67,383.69 L499.79,383.41 L499.92,385.45 L500.05,383.47 L500.18,380.55 L500.31,377.52 L500.31,377.93 L500.43,373.26 L500.56,375.34 L500.69,373.70 L500.82,372.57 L500.95,374.36 L501.07,376.13 L501.17,367.42 L501.17,374.49 L501.20,376.85 L501.33,376.29 L501.46,374.47 L501.59,372.30 L501.71,370.54 L501.84,367.85 L501.97,368.83 L502.03,363.98 L502.03,364.19 L502.10,368.04 L502.23,367.50 L502.35,369.09 L502.48,369.44 L502.61,368.89 L502.74,368.39 L502.87,371.05 L502.89,365.91 L502.89,370.85 L502.99,375.44 L503.12,374.15 L503.25,372.07 L503.38,372.06 L503.51,370.85 L503.63,372.67 L503.75,374.49 L503.75,381.15 L503.76,380.73 L503.89,375.73 L504.02,376.46 L504.15,377.74 L504.27,377.14 L504.40,374.13 L504.53,376.36 L504.60,374.29 L504.60,386.51 L504.66,384.92 L504.79,380.08 L504.91,376.44 L505.04,375.34 L505.17,375.65 L505.30,375.16 L505.43,371.92 L505.46,369.13 L505.46,377.93 L505.55,376.20 L505.68,374.55 L505.81,372.76 L505.94,372.81 L506.07,369.33 L506.19,370.69 L506.32,372.57 L506.32,372.77 L506.32,372.46 L506.45,371.23 L506.58,371.29 L506.71,368.11 L506.83,364.75 L506.96,363.94 L507.09,366.62 L507.18,365.70 L507.18,369.34 L507.22,371.20 L507.35,368.36 L507.47,369.56 L507.60,366.80 L507.73,368.40 L507.86,366.87 L507.99,363.67 L508.04,362.27 L508.04,362.47 L508.11,364.48 L508.24,361.77 L508.37,359.71 L508.50,359.58 L508.63,359.58 L508.75,359.59 L508.88,359.66 L508.90,360.55 L508.90,360.76 L509.01,359.81 L509.14,363.71 L509.27,362.53 L509.39,361.41 L509.52,364.87 L509.65,367.49 L509.76,363.98 L509.76,367.62 L509.78,370.73 L509.91,366.52 L510.03,366.47 L510.16,369.06 L510.29,369.61 L510.42,373.21 L510.55,369.72 L510.61,370.85 L510.61,379.64 L510.67,379.74 L510.80,376.59 L510.93,377.97 L511.06,375.37 L511.19,375.40 L511.31,371.44 L511.44,366.91 L511.47,369.13 L511.47,381.36 L511.57,376.21 L511.70,374.72 L511.83,372.27 L511.95,374.54 L512.08,375.45 L512.21,373.16 L512.33,369.34 L512.33,374.29 L512.34,373.55 L512.47,374.65 L512.59,374.59 L512.72,379.24 L512.85,380.17 L512.98,381.48 L513.11,380.90 L513.19,381.15 L513.19,383.08 L513.23,379.92 L513.36,381.68 L513.49,382.77 L513.62,387.11 L513.75,389.88 L513.87,390.46 L514.00,392.36 L514.05,395.10 L514.13,397.79 L514.26,396.40 L514.39,396.16 L514.51,397.91 L514.64,398.53 L514.77,399.96 L514.90,403.24 L514.91,403.68 L515.03,404.60 L515.15,398.61 L515.28,397.42 L515.41,396.12 L515.54,394.36 L515.67,392.39 L515.77,391.66 L515.79,390.47 L515.92,392.40 L516.05,390.41 L516.18,389.69 L516.31,389.30 L516.43,389.09 L516.56,388.19 L516.62,388.23 L516.69,390.72 L516.82,391.25 L516.95,392.45 L517.07,393.23 L517.20,392.30 L517.33,392.61 L517.46,392.86 L517.48,396.81 L517.59,394.35 L517.71,392.89 L517.84,391.01 L517.97,392.18 L518.10,393.14 L518.23,388.84 L518.34,391.66 L518.35,393.20 L518.48,395.32 L518.61,397.34 L518.74,401.92 L518.87,403.69 L518.99,404.44 L519.12,408.92 L519.20,408.83 L519.25,408.30 L519.38,405.65 L519.51,405.02 L519.63,399.89 L519.76,397.83 L519.89,396.65 L520.02,399.05 L520.06,393.38 L520.15,394.21 L520.27,393.13 L520.40,393.69 L520.53,392.66 L520.66,389.28 L520.79,390.26 L520.91,390.05 L520.92,389.95 L521.04,391.90 L521.17,394.81 L521.30,396.72 L521.43,397.07 L521.55,397.50 L521.68,395.35 L521.78,396.81 L521.81,396.39 L521.94,398.14 L522.07,398.35 L522.19,399.89 L522.32,399.37 L522.45,404.19 L522.58,408.73 L522.63,403.68 L522.71,406.56 L522.83,407.00 L522.96,406.24 L523.09,408.89 L523.22,408.89 L523.35,408.89 L523.47,408.51 L523.49,407.97 L523.60,407.83 L523.73,404.68 L523.86,405.79 L523.99,403.31 L524.11,403.97 L524.24,403.19 L524.35,401.96 L524.37,404.32 L524.50,402.53 L524.63,403.23 L524.75,399.45 L524.88,399.94 L525.01,398.25 L525.14,397.78 L525.21,396.81 L525.27,397.16 L525.39,398.59 L525.52,393.44 L525.65,394.93 L525.78,392.08 L525.91,395.68 L526.03,391.37 L526.07,395.10 L526.16,390.25 L526.29,387.84 L526.42,392.72 L526.55,389.48 L526.67,390.04 L526.80,388.77 L526.93,389.95 L526.93,385.17 L527.06,385.63 L527.19,387.59 L527.31,386.77 L527.44,388.22 L527.57,386.18 L527.70,385.39 L527.78,384.79 L527.83,383.77 L527.95,383.85 L528.08,386.64 L528.21,384.88 L528.30,381.15 L528.34,383.42 L528.47,381.36 L528.59,379.89 L528.64,381.36 L528.72,383.40 L528.85,380.32 L528.98,378.86 L529.11,379.60 L529.23,379.38 L529.36,384.00 L529.49,378.11 L529.50,381.15 L529.50,383.08 L529.62,381.24 L529.75,382.31 L529.87,378.97 L530.00,377.59 L530.13,378.60 L530.26,381.28 L530.36,377.72 L530.36,377.93 L530.39,377.73 L530.51,374.06 L530.64,376.75 L530.77,379.25 L530.90,376.81 L531.03,371.37 L531.15,375.23 L531.22,374.29 L531.22,376.21 L531.28,375.36 L531.41,375.90 L531.54,373.21 L531.67,370.25 L531.73,369.34 L531.79,368.10 L531.92,370.69 L532.05,371.88 L532.08,367.42 L532.18,363.77 L532.31,360.09 L532.42,360.76 L532.43,362.56 L532.56,360.94 L532.59,360.55 L532.69,356.14 L532.82,354.67 L532.94,353.89 L532.95,352.77 L533.07,352.94 L533.20,352.25 L533.28,353.68 L533.33,351.49 L533.46,349.48 L533.59,349.16 L533.71,346.00 L533.79,346.81 L533.79,348.74 L533.84,346.35 L533.97,344.92 L534.10,346.23 L534.23,344.43 L534.35,341.65 L534.48,340.54 L534.61,338.89 L534.65,336.51 L534.65,340.15 L534.74,342.00 L534.87,339.64 L534.99,339.97 L535.12,338.43 L535.25,333.91 L535.38,329.62 L535.51,328.80 L535.51,326.21 L535.63,327.27 L535.76,324.53 L535.89,319.51 L536.02,315.23 L536.15,316.31 L536.27,317.23 L536.37,315.91 L536.40,317.94 L536.53,315.96 L536.66,319.94 L536.79,319.69 L536.91,321.90 L537.04,323.79 L537.17,323.00 L537.23,324.49 L537.30,323.74 L537.43,322.08 L537.55,324.11 L537.68,324.28 L537.81,329.57 L537.94,332.71 L538.07,337.02 L538.09,336.51 L538.19,338.78 L538.32,338.31 L538.45,340.51 L538.58,340.86 L538.71,343.58 L538.83,345.14 L538.95,345.10 L538.96,343.95 L539.09,345.49 L539.22,346.93 L539.35,347.48 L539.47,350.62 L539.60,352.38 L539.73,352.38 L539.80,351.96 L539.86,351.46 L539.99,344.77 L540.11,344.18 L540.24,342.38 L540.37,337.04 L540.50,337.91 L540.63,338.22 L540.66,338.23 L540.75,335.68 L540.88,334.63 L541.01,332.41 L541.14,334.13 L541.27,330.18 L541.39,329.82 L541.52,331.36 L541.52,333.72 L541.65,331.85 L541.78,331.15 L541.91,329.09 L542.03,325.39 L542.16,325.05 L542.29,325.31 L542.38,324.49 L542.42,322.35 L542.55,323.32 L542.67,325.50 L542.80,326.25 L542.93,321.19 L543.06,319.17 L543.19,316.47 L543.24,321.06 L543.31,319.87 L543.44,320.61 L543.57,320.94 L543.70,317.66 L543.83,314.82 L543.95,315.29 L544.08,315.31 L544.10,315.91 L544.21,313.33 L544.34,313.95 L544.47,315.12 L544.59,314.79 L544.72,311.85 L544.85,307.73 L544.96,312.47 L544.98,308.70 L545.11,309.57 L545.23,308.89 L545.36,307.79 L545.49,306.24 L545.62,307.77 L545.75,306.79 L545.81,306.46 L545.87,306.93 L546.00,305.77 L546.13,305.77 L546.26,307.61 L546.39,306.67 L546.51,305.85 L546.64,307.48 L546.67,310.76 L546.77,311.48 L546.90,311.91 L547.03,313.46 L547.15,313.46 L547.28,312.40 L547.41,309.70 L547.53,312.47 L547.54,309.79 L547.67,313.46 L547.79,313.36 L547.92,313.46 L548.05,313.46 L548.18,312.84 L548.31,311.51 L548.39,310.76 L548.43,311.44 L548.56,312.80 L548.69,313.29 L548.82,313.76 L548.95,313.46 L549.07,311.54 L549.20,311.51 L549.25,312.47 L549.33,309.90 L549.46,312.62 L549.59,309.77 L549.71,309.77 L549.84,314.40 L549.97,312.22 L550.10,309.77 L550.11,310.76 L550.23,310.51 L550.35,314.24 L550.48,313.89 L550.61,315.53 L550.74,315.80 L550.87,315.32 L550.96,315.91 L550.99,322.33 L551.12,320.46 L551.25,318.33 L551.38,317.35 L551.51,318.71 L551.63,319.78 L551.76,321.36 L551.82,319.34 L551.89,321.25 L552.02,318.24 L552.15,320.57 L552.27,320.49 L552.40,320.69 L552.53,318.62 L552.66,319.41 L552.68,322.77 L552.79,319.78 L552.91,321.58 L553.04,320.04 L553.17,322.32 L553.30,324.05 L553.43,322.80 L553.54,326.21 L553.55,323.21 L553.68,322.96 L553.81,326.45 L553.94,321.77 L554.07,323.43 L554.19,321.90 L554.32,323.54 L554.40,327.93 L554.45,327.29 L554.58,326.87 L554.71,328.37 L554.83,327.51 L554.96,332.76 L555.09,334.07 L555.22,335.48 L555.26,331.36 L555.35,331.63 L555.47,329.97 L555.60,333.55 L555.73,333.35 L555.86,333.31 L555.99,334.67 L556.11,332.51 L556.12,334.79 L556.24,333.96 L556.37,332.90 L556.50,332.78 L556.63,330.00 L556.75,330.28 L556.88,327.61 L556.97,327.93 L557.01,328.84 L557.14,329.31 L557.27,328.64 L557.39,326.94 L557.52,325.64 L557.65,317.67 L557.78,319.46 L557.83,319.34 L557.91,317.80 L558.03,317.03 L558.16,315.30 L558.29,311.54 L558.42,310.47 L558.55,311.71 L558.67,313.46 L558.69,310.76 L558.80,311.70 L558.93,310.55 L559.06,314.88 L559.19,313.11 L559.31,318.27 L559.44,317.63 L559.55,315.91 L559.57,315.64 L559.70,318.26 L559.83,321.46 L559.95,317.32 L560.08,321.03 L560.21,319.78 L560.34,322.77 L560.41,319.34 L560.47,321.16 L560.59,318.18 L560.72,320.86 L560.85,323.63 L560.98,327.93 L561.11,330.08 L561.23,329.62 L561.27,324.49 L561.36,328.16 L561.49,327.32 L561.62,327.77 L561.75,327.48 L561.87,328.94 L562.00,325.78 L562.13,333.08 L562.13,329.74 L562.26,329.72 L562.39,334.03 L562.51,333.05 L562.64,329.27 L562.77,328.57 L562.90,324.06 L562.98,324.49 L563.03,321.58 L563.15,315.82 L563.28,317.85 L563.41,316.25 L563.54,310.63 L563.67,308.36 L563.79,307.89 L563.84,305.60 L563.92,307.17 L564.05,306.99 L564.18,304.30 L564.31,303.02 L564.43,303.62 L564.56,305.52 L564.69,303.07 L564.70,303.89 L564.82,300.90 L564.95,304.04 L565.07,301.66 L565.20,304.15 L565.33,303.88 L565.46,304.88 L565.56,302.17 L565.59,307.06 L565.71,305.92 L565.84,305.22 L565.97,301.20 L566.10,299.03 L566.23,300.20 L566.35,302.48 L566.42,298.74 L566.48,303.29 L566.61,305.33 L566.74,302.29 L566.87,299.99 L566.99,299.97 L567.12,297.72 L567.25,295.95 L567.28,294.44 L567.38,294.70 L567.51,299.11 L567.63,298.40 L567.76,301.91 L567.89,300.92 L568.02,306.13 L568.14,307.32 L568.15,305.64 L568.27,308.53 L568.40,305.60 L568.53,306.35 L568.66,310.24 L568.79,308.81 L568.91,309.90 L568.99,310.76 L569.04,309.28 L569.17,304.66 L569.30,306.92 L569.43,308.32 L569.55,305.87 L569.68,307.56 L569.81,305.64 L569.85,307.32 L569.94,304.57 L570.07,306.37 L570.19,306.49 L570.32,311.36 L570.45,307.27 L570.58,309.50 L570.71,311.44 L570.71,309.04 L570.83,307.02 L570.96,306.49 L571.09,308.70 L571.22,308.99 L571.35,311.10 L571.47,314.08 L571.57,312.47 L571.60,312.99 L571.73,310.94 L571.86,306.49 L571.99,309.77 L572.11,309.58 L572.24,312.06 L572.37,313.48 L572.43,314.19 L572.50,311.91 L572.63,318.15 L572.75,321.22 L572.88,323.21 L573.01,320.95 L573.14,321.77 L573.27,322.59 L573.29,324.49 L573.39,321.36 L573.52,318.31 L573.65,318.98 L573.78,318.36 L573.91,317.64 L574.03,314.86 L574.14,314.19 L574.16,316.27 L574.29,315.00 L574.42,308.09 L574.55,307.82 L574.67,308.52 L574.80,310.68 L574.93,309.14 L575.00,309.04 L575.06,308.45 L575.19,307.66 L575.31,309.94 L575.44,309.19 L575.57,308.53 L575.70,307.96 L575.83,310.32 L575.86,310.76 L575.95,309.10 L576.08,306.35 L576.21,308.13 L576.34,306.71 L576.47,307.77 L576.59,308.23 L576.72,307.32 L576.72,310.00 L576.85,312.56 L576.98,311.48 L577.11,312.26 L577.23,311.09 L577.36,316.94 L577.49,318.60 L577.58,317.62 L577.62,322.03 L577.75,321.07 L577.87,317.54 L578.00,323.10 L578.13,324.07 L578.26,325.24 L578.39,326.31 L578.44,326.21 L578.51,326.01 L578.64,323.34 L578.77,316.27 L578.90,316.15 L579.03,311.62 L579.15,307.79 L579.28,308.66 L579.30,305.60 L579.41,308.63 L579.54,306.05 L579.67,301.26 L579.79,302.21 L579.92,303.34 L580.05,302.57 L580.15,302.17 L580.18,299.09 L580.31,295.44 L580.43,291.09 L580.56,290.19 L580.69,289.63 L580.82,288.48 L580.95,283.04 L581.01,281.57 L581.07,282.95 L581.20,285.95 L581.33,286.43 L581.46,288.27 L581.59,294.74 L581.71,295.60 L581.84,298.29 L581.87,295.30 L581.97,298.29 L582.10,300.19 L582.23,298.75 L582.35,302.18 L582.48,307.60 L582.61,313.58 L582.73,310.76 L582.74,316.22 L582.87,316.72 L582.99,316.27 L583.12,315.20 L583.25,315.95 L583.38,318.46 L583.51,317.68 L583.59,319.34 L583.63,320.98 L583.76,319.23 L583.89,316.90 L584.02,317.35 L584.15,316.61 L584.27,317.07 L584.40,322.66 L584.45,324.49 L584.53,321.81 L584.66,320.74 L584.79,321.15 L584.91,320.79 L585.04,316.22 L585.17,316.33 L585.30,313.68 L585.31,310.76 L585.43,313.66 L585.55,315.15 L585.68,312.82 L585.81,313.21 L585.94,315.31 L586.07,318.52 L586.16,319.34 L586.19,319.18 L586.32,321.23 L586.45,325.48 L586.58,329.73 L586.71,331.81 L586.83,334.88 L586.96,334.19 L587.02,333.08 L587.09,334.25 L587.22,335.66 L587.35,335.68 L587.47,335.68 L587.60,340.42 L587.73,339.96 L587.86,338.56 L587.88,339.95 L587.99,339.36 L588.11,340.76 L588.24,339.51 L588.37,339.97 L588.50,336.49 L588.63,333.89 L588.74,333.08 L588.75,331.55 L588.88,331.07 L589.01,334.44 L589.14,330.16 L589.27,332.88 L589.39,328.91 L589.52,327.77 L589.60,327.93 L589.65,328.92 L589.78,328.89 L589.91,327.87 L590.03,323.08 L590.16,323.93 L590.29,321.36 L590.42,326.69 L590.46,322.77 L590.55,323.84 L590.67,322.48 L590.80,318.58 L590.93,317.17 L591.06,314.91 L591.19,316.70 L591.31,315.24 L591.32,315.91 L591.44,317.14 L591.57,315.99 L591.70,315.88 L591.83,319.59 L591.95,317.50 L592.08,314.91 L592.17,319.34 L592.21,317.72 L592.34,316.37 L592.47,317.07 L592.59,320.29 L592.72,318.87 L592.85,321.51 L592.98,320.08 L593.03,321.06 L593.11,324.11 L593.23,326.80 L593.36,325.23 L593.49,325.22 L593.62,324.38 L593.75,326.35 L593.87,329.84 L593.89,327.93 L594.00,326.71 L594.13,329.72 L594.26,327.25 L594.39,326.90 L594.51,325.04 L594.64,331.92 L594.75,331.36 L594.77,332.02 L594.90,331.97 L595.03,330.00 L595.15,332.20 L595.28,327.08 L595.41,328.16 L595.54,332.89 L595.61,329.64 L595.67,330.62 L595.79,329.66 L595.92,330.18 L596.05,327.33 L596.18,327.08 L596.31,328.60 L596.43,327.78 L596.47,326.21 L596.56,328.39 L596.69,327.82 L596.82,329.11 L596.95,329.68 L597.07,333.12 L597.20,334.03 L597.32,331.36 L597.33,332.94 L597.46,327.93 L597.59,331.46 L597.71,333.86 L597.84,332.16 L597.97,329.19 L598.10,329.32 L598.18,334.79 L598.23,333.65 L598.35,332.27 L598.48,332.75 L598.61,334.51 L598.74,337.67 L598.87,337.18 L598.99,336.83 L599.04,336.51 L599.12,335.82 L599.25,339.21 L599.38,339.21 L599.51,339.21 L599.63,336.15 L599.76,335.44 L599.89,337.86 L599.90,338.23 L600.00,335.76 L600.02,333.88 L600.15,334.71 L600.27,333.51 L600.40,332.00 L600.53,331.17 L600.66,329.72 L600.76,326.21 L600.79,325.64 L600.86,325.45 L600.91,325.39 L601.04,332.29 L601.17,330.07 L601.30,330.96 L601.43,335.32 L601.55,336.23 L601.62,336.51 L601.68,331.43 L601.72,330.60 L601.81,328.57 L601.94,332.86 L602.07,337.15 L602.19,341.24 L602.32,341.74 L602.45,344.77 L602.48,341.66 L602.58,335.76 L602.58,335.80 L602.71,337.41 L602.83,337.21 L602.96,339.30 L603.09,342.22 L603.22,345.13 L603.33,343.38 L603.35,342.85 L603.43,340.91 L603.47,343.43 L603.60,341.94 L603.73,340.11 L603.86,340.89 L603.99,338.94 L604.11,340.88 L604.19,343.38 L604.24,343.09 L604.29,344.34 L604.37,343.91 L604.50,346.03 L604.63,345.89 L604.75,346.72 L604.88,344.61 L605.01,346.60 L605.05,348.53 L605.14,346.64 L605.15,349.49 L605.27,344.99 L605.39,343.63 L605.52,342.50 L605.65,337.27 L605.78,333.43 L605.91,332.77 L605.91,336.51 L606.01,335.76 L606.03,333.86 L606.16,332.17 L606.29,331.04 L606.42,330.00 L606.43,326.21 L606.55,325.70 L606.67,320.49 L606.80,313.79 L606.87,312.72 L606.87,320.30 L606.93,314.04 L606.94,315.91 L607.06,312.91 L607.19,313.76 L607.31,313.93 L607.44,313.34 L607.57,312.42 L607.63,312.47 L607.70,308.81 L607.73,305.85 L607.73,313.43 L607.83,313.46 L607.95,312.31 L608.08,311.12 L608.21,308.16 L608.34,304.89 L608.47,305.44 L608.49,305.60 L608.59,309.29 L608.59,309.90 L608.72,309.17 L608.85,308.33 L608.98,313.19 L609.11,310.02 L609.23,309.18 L609.34,309.04 L609.36,310.00 L609.44,311.00 L609.49,308.51 L609.62,308.04 L609.75,310.52 L609.87,309.68 L610.00,307.98 L610.13,306.28 L610.20,302.17 L610.26,303.54 L610.30,300.70 L610.39,303.33 L610.51,300.82 L610.64,298.41 L610.77,297.65 L610.90,298.44 L611.03,297.40 L611.06,295.30 L611.15,294.79 L611.16,292.12 L611.28,289.23 L611.41,292.31 L611.54,296.32 L611.67,296.59 L611.79,293.31 L611.92,290.15 L611.92,290.11 L612.02,288.68 L612.05,289.44 L612.18,288.07 L612.31,291.00 L612.43,290.59 L612.56,293.65 L612.69,296.62 L612.78,293.59 L612.82,291.09 L612.88,292.12 L612.95,291.23 L613.07,289.43 L613.20,286.68 L613.33,286.37 L613.46,286.73 L613.59,289.20 L613.64,288.43 L613.71,287.23 L613.74,290.40 L613.84,291.07 L613.97,294.02 L614.10,294.02 L614.23,294.02 L614.35,293.59 L614.48,290.69 L614.50,291.87 L614.60,285.25 L614.61,285.65 L614.74,286.52 L614.87,287.83 L614.99,292.39 L615.12,291.55 L615.25,290.54 L615.35,286.72 L615.38,289.76 L615.45,276.66 L615.51,277.12 L615.63,274.21 L615.76,274.21 L615.89,274.21 L615.97,274.95 L616.02,275.61 L616.15,276.92 L616.27,282.60 L616.40,286.33 L616.53,287.84 L616.66,285.25 L616.66,287.18 L616.79,288.63 L616.91,290.28 L617.04,287.91 L617.07,288.43 L617.17,289.20 L617.17,288.68 L617.30,290.94 L617.43,291.22 L617.55,294.32 L617.68,295.67 L617.81,292.62 L617.93,291.87 L617.94,292.73 L618.03,290.40 L618.07,289.57 L618.19,291.98 L618.32,290.87 L618.45,294.11 L618.58,295.32 L618.71,297.54 L618.79,295.30 L618.83,296.79 L618.89,295.55 L618.96,293.94 L619.09,299.14 L619.22,298.71 L619.35,301.88 L619.47,302.22 L619.60,303.25 L619.65,300.45 L619.73,304.72 L619.75,298.98 L619.86,303.64 L619.99,304.96 L620.11,301.34 L620.24,303.79 L620.37,303.34 L620.50,303.60 L620.61,304.13 L620.63,304.04 L620.75,303.68 L620.88,304.96 L621.01,299.44 L621.14,299.08 L621.27,296.94 L621.39,299.01 L621.46,297.27 L621.52,296.78 L621.65,296.98 L621.78,295.08 L621.91,295.77 L622.03,296.57 L622.16,293.91 L622.29,292.91 L622.32,292.12 L622.42,289.45 L622.55,290.79 L622.67,292.60 L622.80,290.76 L622.93,292.90 L623.06,289.45 L623.18,290.40 L623.19,289.45 L623.31,289.45 L623.44,289.45 L623.57,290.79 L623.70,292.75 L623.83,294.36 L623.95,297.31 L624.04,297.27 L624.08,297.19 L624.21,296.15 L624.34,296.07 L624.47,303.25 L624.59,299.14 L624.72,301.54 L624.85,306.69 L624.90,305.85 L624.98,306.69 L625.11,304.85 L625.23,304.83 L625.36,306.44 L625.49,306.69 L625.62,304.61 L625.75,305.79 L625.76,304.13 L625.87,303.97 L626.00,303.79 L626.13,303.54 L626.26,299.20 L626.39,293.67 L626.51,293.33 L626.61,292.12 L626.64,294.72 L626.77,290.87 L626.90,286.12 L627.03,286.07 L627.13,276.66 L627.15,278.19 L627.28,278.35 L627.41,275.11 L627.54,274.03 L627.67,273.08 L627.79,274.97 L627.82,271.51 L627.92,271.44 L628.05,270.11 L628.18,268.84 L628.31,269.39 L628.43,268.84 L628.56,270.09 L628.69,268.84 L628.82,268.84 L628.85,269.79 L628.95,271.38 L629.07,271.65 L629.20,273.80 L629.33,275.28 L629.46,274.79 L629.53,274.95 L629.59,272.20 L629.71,275.64 L629.84,276.21 L629.97,277.59 L630.10,273.69 L630.22,276.66 L630.23,271.68 L630.35,267.75 L630.48,267.29 L630.61,270.21 L630.74,270.37 L630.87,268.63 L630.91,268.08 L630.99,267.78 L631.12,268.34 L631.25,266.20 L631.38,265.97 L631.42,264.64 L631.51,267.51 L631.63,265.76 L631.76,269.51 L631.89,276.44 L631.94,276.66 L632.02,277.41 L632.15,278.83 L632.27,279.39 L632.40,280.62 L632.53,285.21 L632.62,285.25 L632.66,285.73 L632.79,284.91 L632.91,280.75 L633.04,283.85 L633.17,283.43 L633.30,283.97 L633.43,290.05 L633.48,293.83 L633.55,294.32 L633.68,292.49 L633.81,297.64 L633.94,300.66 L634.07,300.71 L634.19,304.49 L634.32,302.75 L634.34,305.85 L634.45,302.47 L634.58,302.09 L634.71,302.86 L634.83,307.64 L634.86,309.29 L634.96,303.17 L635.09,299.22 L635.22,296.03 L635.35,295.17 L635.47,292.36 L635.60,291.85 L635.72,288.68 L635.73,287.27 L635.86,282.91 L635.99,280.96 L636.11,279.98 L636.24,276.55 L636.37,276.21 L636.40,276.66 L636.50,280.22 L636.63,278.73 L636.75,279.43 L636.88,282.80 L636.92,280.10 L637.01,281.10 L637.14,279.98 L637.27,279.11 L637.39,281.88 L637.52,284.09 L637.65,284.38 L637.78,285.25 L637.78,285.21 L637.91,286.22 L638.03,286.22 L638.16,281.23 L638.29,280.52 L638.42,279.90 L638.55,280.36 L638.63,278.38 L638.67,278.33 L638.80,275.86 L638.93,274.34 L639.06,270.37 L639.19,271.09 L639.31,269.96 L639.44,271.00 L639.49,271.51 L639.57,268.08 L639.70,266.93 L639.83,264.64 L639.95,262.58 L640.08,264.36 L640.21,262.58 L640.34,262.82 L640.35,262.93 L640.47,260.94 L640.59,262.56 L640.72,260.15 L640.85,261.34 L640.98,262.20 L641.11,265.10 L641.21,266.36 L641.23,265.93 L641.36,264.57 L641.49,265.36 L641.62,264.14 L641.75,263.69 L641.87,263.46 L642.00,261.25 L642.07,259.49 L642.13,258.81 L642.26,257.81 L642.39,255.11 L642.51,254.49 L642.64,254.93 L642.77,254.08 L642.90,250.49 L642.93,249.19 L643.03,245.71 L643.15,244.55 L643.28,242.99 L643.41,243.80 L643.54,240.60 L643.67,238.31 L643.79,237.17 L643.79,238.20 L643.92,236.35 L644.05,235.72 L644.18,238.92 L644.31,240.25 L644.43,239.17 L644.56,237.65 L644.64,234.59 L644.69,234.30 L644.82,235.59 L644.95,235.41 L645.07,235.68 L645.20,234.42 L645.33,234.72 L645.46,234.61 L645.50,235.45 L645.59,235.68 L645.71,238.67 L645.84,238.44 L645.97,234.37 L646.10,233.64 L646.23,233.64 L646.35,233.64 L646.36,237.17 L646.48,236.04 L646.61,238.26 L646.74,237.90 L646.87,239.72 L646.99,239.08 L647.12,237.67 L647.22,242.32 L647.25,237.29 L647.38,238.90 L647.51,244.92 L647.63,243.54 L647.76,248.38 L647.89,251.96 L648.02,251.61 L648.08,250.91 L648.15,252.04 L648.27,251.51 L648.40,252.77 L648.53,255.31 L648.66,255.94 L648.79,258.70 L648.91,261.14 L648.94,257.77 L649.04,261.55 L649.17,262.29 L649.30,262.48 L649.43,263.92 L649.55,262.37 L649.68,264.99 L649.79,266.36 L649.81,266.71 L649.94,266.36 L650.07,272.78 L650.19,271.01 L650.32,270.77 L650.45,273.53 L650.58,271.37 L650.65,276.66 L650.71,272.98 L650.83,273.10 L650.96,274.90 L651.09,278.25 L651.22,281.78 L651.35,286.08 L651.47,288.68 L651.51,286.96 L651.60,291.07 L651.73,291.48 L651.86,289.92 L651.99,292.46 L652.11,291.09 L652.24,290.32 L652.37,292.12 L652.37,293.11 L652.50,292.67 L652.63,289.55 L652.75,287.82 L652.88,286.11 L653.01,279.69 L653.14,277.45 L653.23,276.66 L653.27,272.71 L653.39,270.71 L653.52,266.59 L653.65,266.84 L653.78,263.98 L653.91,258.27 L654.03,255.10 L654.09,254.34 L654.16,250.09 L654.29,248.91 L654.42,248.30 L654.55,246.44 L654.67,240.02 L654.80,238.44 L654.93,238.25 L654.95,238.89 L655.06,240.87 L655.19,245.40 L655.31,244.15 L655.44,247.94 L655.57,248.78 L655.70,251.90 L655.80,254.34 L655.83,255.39 L655.95,260.33 L656.08,262.31 L656.21,266.56 L656.32,269.79 L656.34,267.03 L656.47,262.83 L656.59,263.34 L656.72,261.53 L656.85,256.42 L656.98,254.00 L657.01,257.77 L657.11,253.39 L657.23,255.19 L657.36,254.36 L657.49,252.47 L657.62,245.28 L657.69,245.76 L657.75,243.44 L657.87,242.59 L658.00,241.02 L658.13,239.22 L658.26,235.95 L658.38,233.74 L658.39,237.17 L658.51,238.24 L658.64,235.59 L658.77,232.07 L658.90,235.87 L659.03,232.79 L659.15,234.29 L659.24,231.16 L659.28,236.54 L659.41,232.24 L659.54,232.08 L659.67,230.65 L659.79,231.47 L659.92,231.52 L660.05,234.75 L660.10,230.30 L660.18,234.33 L660.31,233.23 L660.43,235.04 L660.56,233.54 L660.69,232.65 L660.82,236.34 L660.95,234.55 L660.96,233.74 L661.07,233.39 L661.20,233.85 L661.33,232.03 L661.46,229.35 L661.59,233.51 L661.71,232.67 L661.81,235.45 L661.84,232.59 L661.97,232.32 L662.10,230.73 L662.23,230.14 L662.35,230.84 L662.48,235.99 L662.61,235.55 L662.67,232.02 L662.74,235.30 L662.87,230.70 L662.99,230.86 L663.12,230.19 L663.25,231.08 L663.38,230.52 L663.51,230.67 L663.53,231.16 L663.63,230.87 L663.76,230.21 L663.89,230.19 L664.02,231.18 L664.15,230.19 L664.27,230.19 L664.39,233.74 L664.40,230.24 L664.53,230.64 L664.66,233.02 L664.79,236.15 L664.91,236.71 L665.04,237.15 L665.17,237.27 L665.25,237.17 L665.30,238.91 L665.43,234.11 L665.55,235.55 L665.68,233.71 L665.81,231.91 L665.94,233.20 L666.07,233.09 L666.11,235.45 L666.19,235.39 L666.32,238.15 L666.45,233.30 L666.58,234.88 L666.71,239.88 L666.83,239.88 L666.96,239.88 L666.97,238.89 L667.09,239.88 L667.22,237.09 L667.35,234.98 L667.47,237.29 L667.60,239.06 L667.73,236.65 L667.82,237.17 L667.86,236.02 L667.99,236.60 L668.11,234.56 L668.24,234.56 L668.37,237.35 L668.50,240.84 L668.63,238.24 L668.68,235.45 L668.75,241.18 L668.88,238.98 L669.01,237.50 L669.14,234.56 L669.27,238.96 L669.39,239.59 L669.52,245.80 L669.54,242.32 L669.65,245.92 L669.78,246.12 L669.91,242.65 L670.03,247.60 L670.16,247.25 L670.29,247.86 L670.40,249.19 L670.42,244.61 L670.55,249.81 L670.67,253.67 L670.80,253.41 L670.93,255.26 L671.06,257.59 L671.19,260.74 L671.26,259.49 L671.31,261.42 L671.44,265.49 L671.57,264.51 L671.70,263.71 L671.83,264.02 L671.95,260.58 L672.08,262.48 L672.12,268.08 L672.21,268.33 L672.34,271.30 L672.47,271.73 L672.59,275.15 L672.72,273.28 L672.85,276.45 L672.97,281.81 L672.98,280.80 L673.11,284.82 L673.23,285.21 L673.36,289.75 L673.49,295.30 L673.62,294.96 L673.75,298.02 L673.83,297.27 L673.87,296.26 L674.00,295.52 L674.13,301.25 L674.26,304.58 L674.39,307.91 L674.51,309.37 L674.64,311.84 L674.69,314.44 L674.69,327.17 L674.77,330.35 L674.90,337.73 L675.03,339.99 L675.15,340.19 L675.21,344.34 L675.28,349.13 L675.41,356.23 L675.54,363.21 L675.55,361.51 L675.67,365.00 L675.79,370.94 L675.92,370.83 L676.05,372.46 L676.18,369.52 L676.31,371.12 L676.41,375.25 L676.43,372.59 L676.56,375.15 L676.69,378.06 L676.82,378.22 L676.95,383.90 L677.07,382.32 L677.20,383.22 L677.27,385.55 L677.33,385.50 L677.46,384.14 L677.59,387.38 L677.71,389.86 L677.84,389.90 L677.97,394.74 L678.10,394.40 L678.13,392.42 L678.23,395.88 L678.35,395.28 L678.48,394.34 L678.61,396.72 L678.64,401.00 L678.74,396.03 L678.87,393.67 L678.99,393.67 L679.12,386.34 L679.25,383.42 L679.33,387.27 L679.38,378.58 L679.51,379.69 L679.63,374.84 L679.76,370.32 L679.84,370.10 L679.89,363.93 L680.02,360.74 L680.15,353.64 L680.27,348.09 L680.36,344.34 L680.40,337.68 L680.53,335.30 L680.66,329.75 L680.70,327.17 L680.79,324.91 L680.91,321.48 L681.04,314.44 L681.17,308.15 L681.22,305.85 L681.22,316.87 L681.30,316.62 L681.43,313.89 L681.55,309.76 L681.68,306.73 L681.81,302.66 L681.90,301.56 L681.94,302.35 L682.07,303.95 L682.19,303.10 L682.32,306.39 L682.45,301.58 L682.58,301.35 L682.71,305.16 L682.76,302.42 L682.83,307.83 L682.93,313.43 L682.96,311.16 L683.09,317.56 L683.22,320.72 L683.35,320.16 L683.47,324.79 L683.60,324.99 L683.62,327.17 L683.73,325.13 L683.86,328.41 L683.99,330.58 L684.11,331.49 L684.14,335.76 L684.24,333.44 L684.37,333.62 L684.50,336.28 L684.63,338.11 L684.75,341.16 L684.88,341.00 L684.99,342.62 L685.01,339.49 L685.14,338.54 L685.27,340.33 L685.39,345.18 L685.52,346.76 L685.65,345.18 L685.78,346.76 L685.85,346.06 L685.91,344.36 L686.03,346.08 L686.16,344.00 L686.29,344.76 L686.42,344.61 L686.55,342.41 L686.67,342.00 L686.71,340.91 L686.80,337.67 L686.93,335.98 L687.06,336.43 L687.19,341.89 L687.23,332.32 L687.31,340.54 L687.44,340.19 L687.57,338.68 L687.70,342.82 L687.83,340.75 L687.91,344.34 L687.95,341.81 L688.08,344.89 L688.21,344.12 L688.34,349.68 L688.47,352.62 L688.59,351.57 L688.60,351.21 L688.72,351.79 L688.85,351.03 L688.98,351.06 L689.11,355.41 L689.23,359.02 L689.29,359.79 L689.36,359.57 L689.49,358.52 L689.62,355.72 L689.75,355.37 L689.87,350.97 L690.00,350.79 L690.13,353.11 L690.15,351.21 L690.26,353.92 L690.39,350.43 L690.51,348.18 L690.64,349.86 L690.77,351.28 L690.90,345.13 L691.00,344.34 L691.03,343.22 L691.15,343.23 L691.28,344.89 L691.41,341.46 L691.54,342.07 L691.67,340.23 L691.79,344.19 L691.86,339.19 L691.92,342.48 L692.05,340.19 L692.18,338.21 L692.31,339.61 L692.43,339.49 L692.56,335.68 L692.69,335.80 L692.72,335.76 L692.82,333.71 L692.95,334.26 L693.07,333.91 L693.20,334.06 L693.33,335.83 L693.46,336.72 L693.58,342.62 L693.59,340.55 L693.71,341.58 L693.84,339.61 L693.97,336.14 L694.10,337.41 L694.23,331.99 L694.35,331.41 L694.44,334.04 L694.48,331.44 L694.61,333.42 L694.74,335.14 L694.87,333.68 L694.99,330.60 L695.12,330.16 L695.25,331.96 L695.30,332.32 L695.38,330.58 L695.51,330.10 L695.63,328.52 L695.76,328.14 L695.89,332.05 L696.02,333.71 L696.15,331.57 L696.15,334.04 L696.27,329.35 L696.40,328.60 L696.53,329.97 L696.66,326.93 L696.79,326.71 L696.91,322.20 L697.01,327.17 L697.04,321.39 L697.17,325.86 L697.30,330.01 L697.43,328.88 L697.55,329.49 L697.68,333.52 L697.81,334.06 L697.87,335.76 L697.94,330.05 L698.07,324.30 L698.19,317.23 L698.32,311.86 L698.39,305.85 L698.39,339.19 L698.45,336.68 L698.58,329.12 L698.71,321.56 L698.73,320.30 L698.83,314.36 L698.96,304.64 L699.09,296.77 L699.22,293.15 L699.25,292.12 L699.25,311.72 L699.35,304.86 L699.47,303.98 L699.60,300.35 L699.73,295.64 L699.86,292.49 L699.99,288.79 L700.10,283.53 L700.11,286.63 L700.24,283.44 L700.37,281.47 L700.50,279.84 L700.63,282.72 L700.75,282.16 L700.88,277.66 L700.96,276.66 L701.01,275.16 L701.14,271.32 L701.27,269.43 L701.39,267.67 L701.52,269.77 L701.65,262.93 L701.65,261.76 L701.78,263.08 L701.91,262.24 L702.03,259.00 L702.16,257.72 L702.29,256.31 L702.34,256.92 L702.42,256.97 L702.55,260.70 L702.67,258.45 L702.80,263.36 L702.93,263.49 L703.02,264.64 L703.06,270.02 L703.19,278.58 L703.31,288.95 L703.44,295.03 L703.54,300.70" fill="none" stroke="#0000ff" stroke-width="1.5" stroke-linejoin="round" shape-rendering="crispEdges"/>
<rect x="90" y="190" width="615" height="262" fill="none" stroke="#000" stroke-width="2"/>
<g stroke="#000" stroke-width="1"><line x1="152.5" y1="184" x2="152.5" y2="189"/><line x1="152.5" y1="453" x2="152.5" y2="458"/><line x1="245.5" y1="184" x2="245.5" y2="189"/><line x1="245.5" y1="453" x2="245.5" y2="458"/><line x1="339.5" y1="184" x2="339.5" y2="189"/><line x1="339.5" y1="453" x2="339.5" y2="458"/><line x1="432.5" y1="184" x2="432.5" y2="189"/><line x1="432.5" y1="453" x2="432.5" y2="458"/><line x1="526.5" y1="184" x2="526.5" y2="189"/><line x1="526.5" y1="453" x2="526.5" y2="458"/><line x1="619.5" y1="184" x2="619.5" y2="189"/><line x1="619.5" y1="453" x2="619.5" y2="458"/><line x1="83" y1="209.5" x2="89" y2="209.5"/><line x1="706" y1="209.5" x2="713" y2="209.5"/><line x1="83" y1="272.5" x2="89" y2="272.5"/><line x1="706" y1="272.5" x2="713" y2="272.5"/><line x1="83" y1="336.5" x2="89" y2="336.5"/><line x1="706" y1="336.5" x2="713" y2="336.5"/><line x1="83" y1="400.5" x2="89" y2="400.5"/><line x1="706" y1="400.5" x2="713" y2="400.5"/></g>
<g filter="url(#bin)">
<g font-size="11">
<text x="90.3" y="168" textLength="247.5" lengthAdjust="spacingAndGlyphs">Nino-3.4 Sea Surface Temperature Anomaly (xbyld)</text>
<text x="514.3" y="168" textLength="128.5" lengthAdjust="spacingAndGlyphs">units=(degrees centigrade)</text>
<text x="368.3" y="450" textLength="58.5" lengthAdjust="spacingAndGlyphs">time (years)</text>
</g>
<g><text transform="translate(0,468.0) scale(1,1.0)" x="140.25" y="0" font-size="10.0" textLength="24.5" lengthAdjust="spacingAndGlyphs">1980</text><text transform="translate(0,468.0) scale(1,1.0)" x="234.35" y="0" font-size="10.0" textLength="24.5" lengthAdjust="spacingAndGlyphs">1982</text><text transform="translate(0,468.0) scale(1,1.0)" x="327.35" y="0" font-size="10.0" textLength="24.5" lengthAdjust="spacingAndGlyphs">1984</text><text transform="translate(0,468.0) scale(1,1.0)" x="421.35" y="0" font-size="10.0" textLength="24.5" lengthAdjust="spacingAndGlyphs">1986</text><text transform="translate(0,468.0) scale(1,1.0)" x="514.35" y="0" font-size="10.0" textLength="24.5" lengthAdjust="spacingAndGlyphs">1988</text><text transform="translate(0,468.0) scale(1,1.0)" x="608.25" y="0" font-size="10.0" textLength="24.5" lengthAdjust="spacingAndGlyphs">1990</text><text x="76.4" y="214" font-size="10.0" textLength="7.0" lengthAdjust="spacingAndGlyphs">2</text><text x="77.3" y="278" font-size="10.0" textLength="6.2" lengthAdjust="spacingAndGlyphs">1</text><text x="76.4" y="343" font-size="10.0" textLength="7.0" lengthAdjust="spacingAndGlyphs">0</text><text x="72.3" y="405" font-size="10.0" textLength="9.6" lengthAdjust="spacingAndGlyphs">-1</text></g>
</g>
</svg>
</body></html>
